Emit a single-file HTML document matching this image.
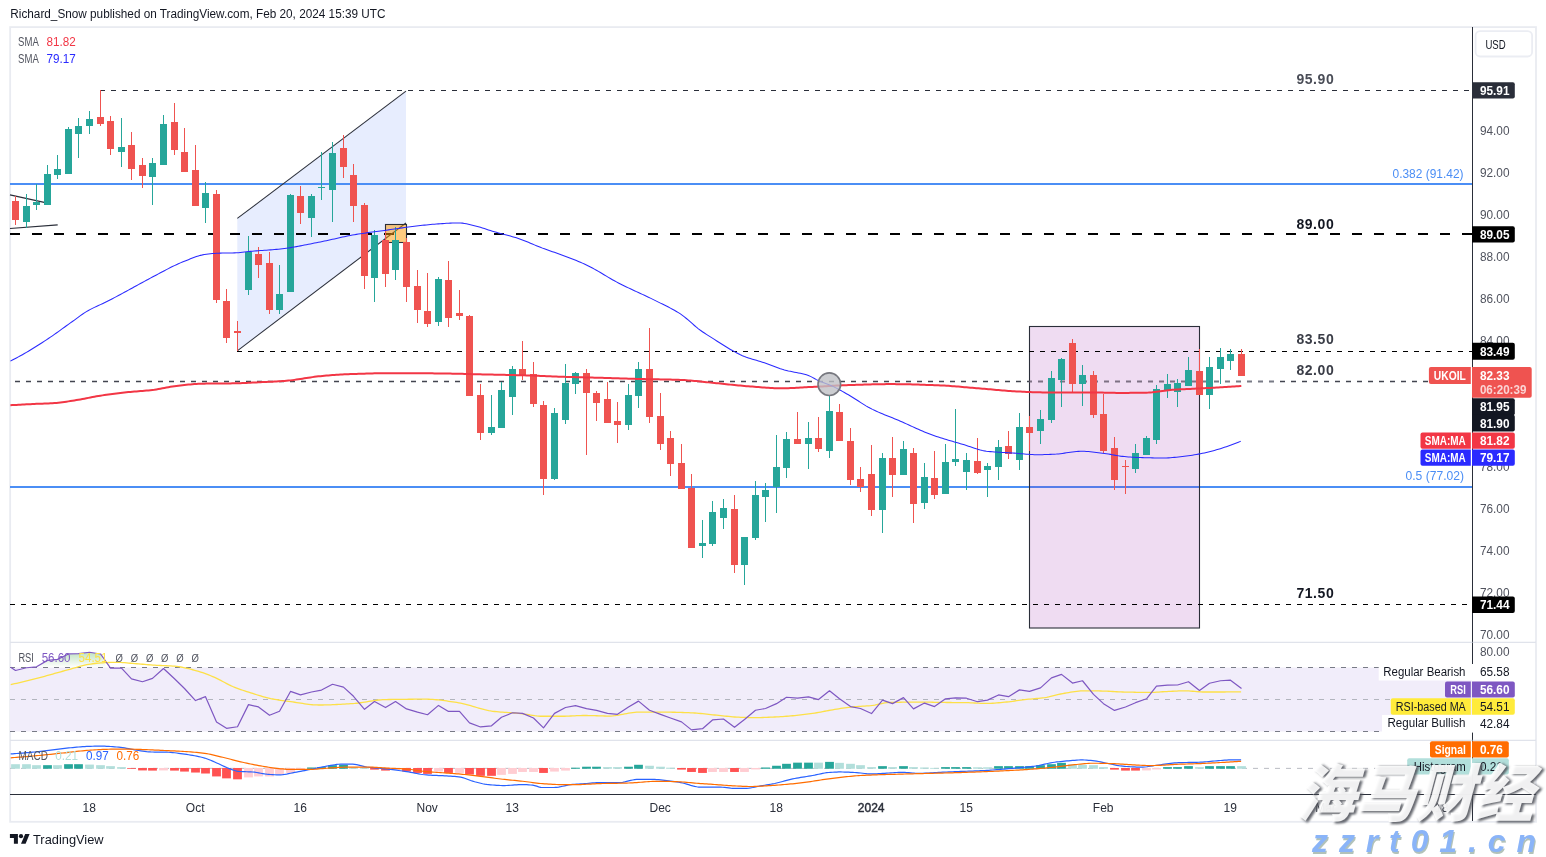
<!DOCTYPE html>
<html lang="en"><head><meta charset="utf-8"><title>UKOIL chart</title>
<style>html,body{margin:0;padding:0;background:#fff;}body{width:1546px;height:857px;position:relative;overflow:hidden;font-family:"Liberation Sans", sans-serif;}</style>
</head><body>
<svg width="1546" height="857" viewBox="0 0 1546 857" style="position:absolute;left:0;top:0;font-family:'Liberation Sans', sans-serif">
<rect x="0" y="0" width="1546" height="857" fill="#fff"/>
<text x="10.3" y="18.1" font-size="12" fill="#131722" textLength="375.2" lengthAdjust="spacingAndGlyphs">Richard_Snow published on TradingView.com, Feb 20, 2024 15:39 UTC</text>
<rect x="10.15" y="27.1" width="1525.85" height="794.6999999999999" fill="none" stroke="#e9ebf1" stroke-width="1.8"/>
<line x1="10" x2="1536" y1="642.3" y2="642.3" stroke="#e0e3eb" stroke-width="1.2"/>
<line x1="10" x2="1536" y1="740.3" y2="740.3" stroke="#e0e3eb" stroke-width="1.2"/>
<polygon points="237.3,218.4 406,91.2 406,223 237.3,350.8" fill="#e7edfe"/>
<line x1="10" x2="1472.5" y1="184" y2="184" stroke="#4b8ef5" stroke-width="2"/>
<line x1="10" x2="1472.5" y1="487" y2="487" stroke="#4b8ef5" stroke-width="2"/>
<rect x="1029.5" y="326.5" width="170" height="301.5" fill="#9c27b0" fill-opacity="0.16" stroke="none"/>
<rect x="1029.5" y="326.5" width="170" height="301.5" fill="none" stroke="#2a2e39" stroke-width="1.1"/>
<line x1="10" x2="1472.5" y1="234" y2="234" stroke="#000" stroke-width="2" stroke-dasharray="10 12" stroke-dashoffset="0"/>
<line x1="100" x2="1472.5" y1="90.5" y2="90.5" stroke="#2a2e39" stroke-width="1.2" stroke-dasharray="5 6"/>
<line x1="237" x2="1472.5" y1="351.5" y2="351.5" stroke="#000" stroke-width="1.1" stroke-dasharray="5 6"/>
<line x1="15" x2="1029.5" y1="381.5" y2="381.5" stroke="#42454f" stroke-width="1.3" stroke-dasharray="5 6"/>
<line x1="1029.5" x2="1199.6" y1="381.5" y2="381.5" stroke="#7d7083" stroke-width="1.9" stroke-dasharray="5 6" stroke-dashoffset="2.5"/>
<line x1="1199.6" x2="1275" y1="381.5" y2="381.5" stroke="#787b86" stroke-width="1.9" stroke-dasharray="5 6" stroke-dashoffset="7.6"/>
<line x1="1275" x2="1429" y1="381.5" y2="381.5" stroke="#42454f" stroke-width="1.3" stroke-dasharray="5 6" stroke-dashoffset="6"/>
<line x1="10" x2="1472.5" y1="604.5" y2="604.5" stroke="#000" stroke-width="1.1" stroke-dasharray="5 6"/>
<line x1="10" y1="194.9" x2="44.2" y2="202.3" stroke="#2a2e39" stroke-width="1.2"/>
<line x1="10" y1="228.5" x2="57.7" y2="224.8" stroke="#2a2e39" stroke-width="1.2"/>
<line x1="237.3" y1="218.4" x2="406" y2="91.2" stroke="#2a2e39" stroke-width="1.05"/>
<line x1="237.3" y1="350.8" x2="406" y2="223" stroke="#2a2e39" stroke-width="1.05"/>
<rect x="385.5" y="224.5" width="21" height="18" fill="#ff9800" fill-opacity="0.5" stroke="#2a2e39" stroke-width="1.1"/>
<g><rect x="15" y="196" width="1" height="29" fill="#ef5350"/><rect x="26" y="194" width="1" height="34" fill="#26a69a"/><rect x="36" y="184" width="1" height="26" fill="#26a69a"/><rect x="47" y="165" width="1" height="40" fill="#26a69a"/><rect x="57" y="155" width="1" height="24" fill="#26a69a"/><rect x="68" y="127" width="1" height="47" fill="#26a69a"/><rect x="78" y="118" width="1" height="40" fill="#26a69a"/><rect x="89" y="111" width="1" height="23" fill="#26a69a"/><rect x="100" y="90" width="1" height="36" fill="#ef5350"/><rect x="110" y="116" width="1" height="39" fill="#ef5350"/><rect x="121" y="118" width="1" height="49" fill="#26a69a"/><rect x="131" y="132" width="1" height="48" fill="#ef5350"/><rect x="142" y="158" width="1" height="30" fill="#ef5350"/><rect x="152" y="158" width="1" height="47" fill="#26a69a"/><rect x="163" y="115" width="1" height="50" fill="#26a69a"/><rect x="174" y="103" width="1" height="52" fill="#ef5350"/><rect x="184" y="128" width="1" height="44" fill="#ef5350"/><rect x="195" y="145" width="1" height="61" fill="#ef5350"/><rect x="205" y="182" width="1" height="41" fill="#26a69a"/><rect x="216" y="190" width="1" height="113" fill="#ef5350"/><rect x="226" y="289" width="1" height="54" fill="#ef5350"/><rect x="237" y="321" width="1" height="30" fill="#ef5350"/><rect x="248" y="236" width="1" height="59" fill="#26a69a"/><rect x="258" y="247" width="1" height="31" fill="#ef5350"/><rect x="269" y="252" width="1" height="62" fill="#ef5350"/><rect x="279" y="265" width="1" height="49" fill="#26a69a"/><rect x="290" y="194" width="1" height="98" fill="#26a69a"/><rect x="300" y="186" width="1" height="38" fill="#ef5350"/><rect x="311" y="194" width="1" height="43" fill="#26a69a"/><rect x="321" y="152" width="1" height="48" fill="#26a69a"/><rect x="332" y="142" width="1" height="80" fill="#26a69a"/><rect x="343" y="135" width="1" height="43" fill="#ef5350"/><rect x="353" y="164" width="1" height="58" fill="#ef5350"/><rect x="364" y="203" width="1" height="86" fill="#ef5350"/><rect x="374" y="230" width="1" height="72" fill="#26a69a"/><rect x="385" y="231" width="1" height="56" fill="#ef5350"/><rect x="395" y="227" width="1" height="53" fill="#26a69a"/><rect x="406" y="238" width="1" height="64" fill="#ef5350"/><rect x="417" y="270" width="1" height="53" fill="#ef5350"/><rect x="427" y="273" width="1" height="54" fill="#ef5350"/><rect x="438" y="277" width="1" height="49" fill="#26a69a"/><rect x="448" y="261" width="1" height="66" fill="#ef5350"/><rect x="459" y="290" width="1" height="30" fill="#ef5350"/><rect x="469" y="315" width="1" height="81" fill="#ef5350"/><rect x="480" y="384" width="1" height="56" fill="#ef5350"/><rect x="491" y="395" width="1" height="40" fill="#26a69a"/><rect x="501" y="382" width="1" height="46" fill="#26a69a"/><rect x="512" y="366" width="1" height="49" fill="#26a69a"/><rect x="522" y="341" width="1" height="39" fill="#ef5350"/><rect x="533" y="362" width="1" height="45" fill="#ef5350"/><rect x="543" y="401" width="1" height="94" fill="#ef5350"/><rect x="554" y="408" width="1" height="72" fill="#26a69a"/><rect x="565" y="364" width="1" height="60" fill="#26a69a"/><rect x="575" y="372" width="1" height="22" fill="#26a69a"/><rect x="586" y="369" width="1" height="86" fill="#ef5350"/><rect x="596" y="391" width="1" height="30" fill="#ef5350"/><rect x="607" y="382" width="1" height="41" fill="#ef5350"/><rect x="617" y="402" width="1" height="41" fill="#ef5350"/><rect x="628" y="384" width="1" height="46" fill="#26a69a"/><rect x="638" y="362" width="1" height="46" fill="#26a69a"/><rect x="649" y="328" width="1" height="95" fill="#ef5350"/><rect x="660" y="393" width="1" height="57" fill="#ef5350"/><rect x="670" y="431" width="1" height="45" fill="#ef5350"/><rect x="681" y="444" width="1" height="45" fill="#ef5350"/><rect x="691" y="474" width="1" height="74" fill="#ef5350"/><rect x="702" y="520" width="1" height="38" fill="#26a69a"/><rect x="712" y="501" width="1" height="45" fill="#26a69a"/><rect x="723" y="499" width="1" height="30" fill="#26a69a"/><rect x="734" y="495" width="1" height="78" fill="#ef5350"/><rect x="744" y="537" width="1" height="48" fill="#26a69a"/><rect x="755" y="481" width="1" height="59" fill="#26a69a"/><rect x="765" y="483" width="1" height="39" fill="#26a69a"/><rect x="776" y="435" width="1" height="78" fill="#26a69a"/><rect x="786" y="432" width="1" height="46" fill="#26a69a"/><rect x="797" y="412" width="1" height="32" fill="#ef5350"/><rect x="808" y="422" width="1" height="47" fill="#26a69a"/><rect x="818" y="417" width="1" height="35" fill="#ef5350"/><rect x="829" y="396" width="1" height="62" fill="#26a69a"/><rect x="839" y="404" width="1" height="37" fill="#ef5350"/><rect x="850" y="428" width="1" height="57" fill="#ef5350"/><rect x="860" y="467" width="1" height="25" fill="#ef5350"/><rect x="871" y="445" width="1" height="71" fill="#ef5350"/><rect x="882" y="453" width="1" height="80" fill="#26a69a"/><rect x="892" y="437" width="1" height="60" fill="#ef5350"/><rect x="903" y="441" width="1" height="34" fill="#26a69a"/><rect x="913" y="448" width="1" height="75" fill="#ef5350"/><rect x="924" y="463" width="1" height="46" fill="#26a69a"/><rect x="934" y="451" width="1" height="48" fill="#ef5350"/><rect x="945" y="444" width="1" height="50" fill="#26a69a"/><rect x="955" y="409" width="1" height="57" fill="#26a69a"/><rect x="966" y="453" width="1" height="37" fill="#26a69a"/><rect x="977" y="438" width="1" height="36" fill="#ef5350"/><rect x="987" y="463" width="1" height="34" fill="#26a69a"/><rect x="998" y="440" width="1" height="40" fill="#26a69a"/><rect x="1008" y="431" width="1" height="28" fill="#ef5350"/><rect x="1019" y="413" width="1" height="57" fill="#26a69a"/><rect x="1029" y="416" width="1" height="35" fill="#ef5350"/><rect x="1040" y="410" width="1" height="34" fill="#26a69a"/><rect x="1051" y="371" width="1" height="52" fill="#26a69a"/><rect x="1061" y="358" width="1" height="49" fill="#26a69a"/><rect x="1072" y="339" width="1" height="53" fill="#ef5350"/><rect x="1082" y="365" width="1" height="41" fill="#26a69a"/><rect x="1093" y="371" width="1" height="47" fill="#ef5350"/><rect x="1103" y="394" width="1" height="59" fill="#ef5350"/><rect x="1114" y="437" width="1" height="53" fill="#ef5350"/><rect x="1125" y="460" width="1" height="34" fill="#ef5350"/><rect x="1135" y="444" width="1" height="29" fill="#26a69a"/><rect x="1146" y="436" width="1" height="19" fill="#26a69a"/><rect x="1156" y="385" width="1" height="59" fill="#26a69a"/><rect x="1167" y="374" width="1" height="24" fill="#26a69a"/><rect x="1177" y="379" width="1" height="28" fill="#26a69a"/><rect x="1188" y="357" width="1" height="29" fill="#26a69a"/><rect x="1199" y="349" width="1" height="46" fill="#ef5350"/><rect x="1209" y="357" width="1" height="52" fill="#26a69a"/><rect x="1220" y="348" width="1" height="36" fill="#26a69a"/><rect x="1230" y="349" width="1" height="21" fill="#26a69a"/><rect x="1241" y="349" width="1" height="27" fill="#ef5350"/></g>
<g><rect x="12" y="201" width="7" height="19" fill="#ef5350"/><rect x="23" y="206" width="7" height="16" fill="#26a69a"/><rect x="33" y="202" width="7" height="3" fill="#26a69a"/><rect x="44" y="174" width="7" height="31" fill="#26a69a"/><rect x="54" y="169" width="7" height="6" fill="#26a69a"/><rect x="65" y="129" width="7" height="45" fill="#26a69a"/><rect x="75" y="126" width="7" height="8" fill="#26a69a"/><rect x="86" y="119" width="7" height="7" fill="#26a69a"/><rect x="97" y="117" width="7" height="7" fill="#ef5350"/><rect x="107" y="121" width="7" height="28" fill="#ef5350"/><rect x="118" y="147" width="7" height="5" fill="#26a69a"/><rect x="128" y="145" width="7" height="24" fill="#ef5350"/><rect x="139" y="165" width="7" height="11" fill="#ef5350"/><rect x="149" y="163" width="7" height="14" fill="#26a69a"/><rect x="160" y="124" width="7" height="41" fill="#26a69a"/><rect x="171" y="122" width="7" height="28" fill="#ef5350"/><rect x="181" y="152" width="7" height="20" fill="#ef5350"/><rect x="192" y="170" width="7" height="36" fill="#ef5350"/><rect x="202" y="193" width="7" height="15" fill="#26a69a"/><rect x="213" y="194" width="7" height="106" fill="#ef5350"/><rect x="223" y="301" width="7" height="37" fill="#ef5350"/><rect x="234" y="331" width="7" height="2" fill="#ef5350"/><rect x="245" y="252" width="7" height="38" fill="#26a69a"/><rect x="255" y="254" width="7" height="11" fill="#ef5350"/><rect x="266" y="263" width="7" height="47" fill="#ef5350"/><rect x="276" y="294" width="7" height="16" fill="#26a69a"/><rect x="287" y="195" width="7" height="97" fill="#26a69a"/><rect x="297" y="196" width="7" height="17" fill="#ef5350"/><rect x="308" y="196" width="7" height="22" fill="#26a69a"/><rect x="318" y="187" width="7" height="1" fill="#26a69a"/><rect x="329" y="153" width="7" height="37" fill="#26a69a"/><rect x="340" y="148" width="7" height="19" fill="#ef5350"/><rect x="350" y="175" width="7" height="31" fill="#ef5350"/><rect x="361" y="205" width="7" height="71" fill="#ef5350"/><rect x="371" y="235" width="7" height="43" fill="#26a69a"/><rect x="382" y="240" width="7" height="34" fill="#ef5350"/><rect x="392" y="240" width="7" height="30" fill="#26a69a"/><rect x="403" y="242" width="7" height="45" fill="#ef5350"/><rect x="414" y="286" width="7" height="24" fill="#ef5350"/><rect x="424" y="311" width="7" height="13" fill="#ef5350"/><rect x="435" y="279" width="7" height="43" fill="#26a69a"/><rect x="445" y="280" width="7" height="38" fill="#ef5350"/><rect x="456" y="313" width="7" height="3" fill="#ef5350"/><rect x="466" y="316" width="7" height="80" fill="#ef5350"/><rect x="477" y="395" width="7" height="38" fill="#ef5350"/><rect x="488" y="427" width="7" height="6" fill="#26a69a"/><rect x="498" y="390" width="7" height="38" fill="#26a69a"/><rect x="509" y="369" width="7" height="28" fill="#26a69a"/><rect x="519" y="369" width="7" height="6" fill="#ef5350"/><rect x="530" y="374" width="7" height="30" fill="#ef5350"/><rect x="540" y="405" width="7" height="74" fill="#ef5350"/><rect x="551" y="413" width="7" height="66" fill="#26a69a"/><rect x="562" y="383" width="7" height="37" fill="#26a69a"/><rect x="572" y="373" width="7" height="11" fill="#26a69a"/><rect x="583" y="373" width="7" height="20" fill="#ef5350"/><rect x="593" y="393" width="7" height="10" fill="#ef5350"/><rect x="604" y="399" width="7" height="24" fill="#ef5350"/><rect x="614" y="421" width="7" height="4" fill="#ef5350"/><rect x="625" y="395" width="7" height="30" fill="#26a69a"/><rect x="635" y="369" width="7" height="27" fill="#26a69a"/><rect x="646" y="369" width="7" height="48" fill="#ef5350"/><rect x="657" y="416" width="7" height="28" fill="#ef5350"/><rect x="667" y="438" width="7" height="26" fill="#ef5350"/><rect x="678" y="463" width="7" height="26" fill="#ef5350"/><rect x="688" y="488" width="7" height="60" fill="#ef5350"/><rect x="699" y="543" width="7" height="3" fill="#26a69a"/><rect x="709" y="512" width="7" height="32" fill="#26a69a"/><rect x="720" y="508" width="7" height="10" fill="#26a69a"/><rect x="731" y="509" width="7" height="56" fill="#ef5350"/><rect x="741" y="537" width="7" height="28" fill="#26a69a"/><rect x="752" y="495" width="7" height="43" fill="#26a69a"/><rect x="762" y="490" width="7" height="7" fill="#26a69a"/><rect x="773" y="467" width="7" height="20" fill="#26a69a"/><rect x="783" y="439" width="7" height="29" fill="#26a69a"/><rect x="794" y="439" width="7" height="5" fill="#ef5350"/><rect x="805" y="438" width="7" height="6" fill="#26a69a"/><rect x="815" y="438" width="7" height="11" fill="#ef5350"/><rect x="826" y="411" width="7" height="40" fill="#26a69a"/><rect x="836" y="412" width="7" height="29" fill="#ef5350"/><rect x="847" y="441" width="7" height="39" fill="#ef5350"/><rect x="857" y="479" width="7" height="8" fill="#ef5350"/><rect x="868" y="474" width="7" height="36" fill="#ef5350"/><rect x="879" y="458" width="7" height="52" fill="#26a69a"/><rect x="889" y="458" width="7" height="17" fill="#ef5350"/><rect x="900" y="449" width="7" height="26" fill="#26a69a"/><rect x="910" y="453" width="7" height="51" fill="#ef5350"/><rect x="921" y="477" width="7" height="26" fill="#26a69a"/><rect x="931" y="478" width="7" height="17" fill="#ef5350"/><rect x="942" y="462" width="7" height="32" fill="#26a69a"/><rect x="952" y="459" width="7" height="3" fill="#26a69a"/><rect x="963" y="460" width="7" height="12" fill="#26a69a"/><rect x="974" y="461" width="7" height="12" fill="#ef5350"/><rect x="984" y="466" width="7" height="4" fill="#26a69a"/><rect x="995" y="447" width="7" height="20" fill="#26a69a"/><rect x="1005" y="446" width="7" height="8" fill="#ef5350"/><rect x="1016" y="427" width="7" height="33" fill="#26a69a"/><rect x="1026" y="427" width="7" height="6" fill="#ef5350"/><rect x="1037" y="419" width="7" height="12" fill="#26a69a"/><rect x="1048" y="378" width="7" height="42" fill="#26a69a"/><rect x="1058" y="359" width="7" height="21" fill="#26a69a"/><rect x="1069" y="343" width="7" height="41" fill="#ef5350"/><rect x="1079" y="375" width="7" height="9" fill="#26a69a"/><rect x="1090" y="375" width="7" height="40" fill="#ef5350"/><rect x="1100" y="414" width="7" height="37" fill="#ef5350"/><rect x="1111" y="448" width="7" height="32" fill="#ef5350"/><rect x="1122" y="466" width="7" height="1" fill="#ef5350"/><rect x="1132" y="453" width="7" height="16" fill="#26a69a"/><rect x="1143" y="438" width="7" height="17" fill="#26a69a"/><rect x="1153" y="389" width="7" height="51" fill="#26a69a"/><rect x="1164" y="384" width="7" height="6" fill="#26a69a"/><rect x="1174" y="383" width="7" height="9" fill="#26a69a"/><rect x="1185" y="370" width="7" height="16" fill="#26a69a"/><rect x="1196" y="371" width="7" height="24" fill="#ef5350"/><rect x="1206" y="367" width="7" height="28" fill="#26a69a"/><rect x="1217" y="357" width="7" height="12" fill="#26a69a"/><rect x="1227" y="354" width="7" height="7" fill="#26a69a"/><rect x="1238" y="354" width="7" height="22" fill="#ef5350"/></g>
<path d="M10.4,405.2 L12.4,405.09 L14.4,404.98 L16.4,404.88 L18.4,404.77 L20.4,404.66 L22.4,404.56 L24.4,404.46 L26.4,404.36 L28.4,404.26 L30.4,404.16 L32.4,404.06 L34.4,403.96 L36.4,403.87 L38.4,403.79 L40.4,403.71 L42.4,403.64 L44.4,403.56 L46.4,403.48 L48.4,403.4 L50.4,403.3 L52.4,403.19 L54.4,403.07 L56.4,402.93 L58.4,402.75 L60.4,402.53 L62.4,402.28 L64.4,402 L66.4,401.7 L68.4,401.38 L70.4,401.06 L72.4,400.73 L74.4,400.41 L76.4,400.09 L78.4,399.75 L80.4,399.4 L82.4,399.03 L84.4,398.65 L86.4,398.26 L88.4,397.87 L90.4,397.48 L92.4,397.09 L94.4,396.71 L96.4,396.35 L98.4,396 L100.4,395.68 L102.4,395.37 L104.4,395.07 L106.4,394.78 L108.4,394.5 L110.4,394.22 L112.4,393.95 L114.4,393.68 L116.4,393.42 L118.4,393.17 L120.4,392.93 L122.4,392.7 L124.4,392.48 L126.4,392.27 L128.4,392.07 L130.4,391.89 L132.4,391.72 L134.4,391.56 L136.4,391.41 L138.4,391.26 L140.4,391.11 L142.4,390.95 L144.4,390.78 L146.4,390.61 L148.4,390.42 L150.4,390.21 L152.4,389.98 L154.4,389.71 L156.4,389.39 L158.4,389.05 L160.4,388.69 L162.4,388.31 L164.4,387.92 L166.4,387.54 L168.4,387.17 L170.4,386.81 L172.4,386.48 L174.4,386.18 L176.4,385.92 L178.4,385.69 L180.4,385.46 L182.4,385.23 L184.4,385.01 L186.4,384.79 L188.4,384.59 L190.4,384.39 L192.4,384.22 L194.4,384.06 L196.4,383.93 L198.4,383.82 L200.4,383.74 L202.4,383.69 L204.4,383.65 L206.4,383.62 L208.4,383.59 L210.4,383.56 L212.4,383.54 L214.4,383.52 L216.4,383.51 L218.4,383.49 L220.4,383.48 L222.4,383.46 L224.4,383.45 L226.4,383.43 L228.4,383.41 L230.4,383.38 L232.4,383.35 L234.4,383.32 L236.4,383.28 L238.4,383.23 L240.4,383.16 L242.4,383.09 L244.4,383 L246.4,382.91 L248.4,382.81 L250.4,382.7 L252.4,382.59 L254.4,382.49 L256.4,382.38 L258.4,382.28 L260.4,382.18 L262.4,382.09 L264.4,382 L266.4,381.91 L268.4,381.82 L270.4,381.73 L272.4,381.63 L274.4,381.54 L276.4,381.43 L278.4,381.32 L280.4,381.21 L282.4,381.08 L284.4,380.94 L286.4,380.79 L288.4,380.6 L290.4,380.38 L292.4,380.14 L294.4,379.87 L296.4,379.59 L298.4,379.29 L300.4,378.98 L302.4,378.67 L304.4,378.35 L306.4,378.03 L308.4,377.72 L310.4,377.41 L312.4,377.12 L314.4,376.85 L316.4,376.59 L318.4,376.36 L320.4,376.16 L322.4,375.97 L324.4,375.78 L326.4,375.6 L328.4,375.42 L330.4,375.25 L332.4,375.08 L334.4,374.93 L336.4,374.79 L338.4,374.66 L340.4,374.54 L342.4,374.44 L344.4,374.36 L346.4,374.28 L348.4,374.2 L350.4,374.12 L352.4,374.04 L354.4,373.97 L356.4,373.9 L358.4,373.83 L360.4,373.76 L362.4,373.69 L364.4,373.63 L366.4,373.57 L368.4,373.52 L370.4,373.46 L372.4,373.42 L374.4,373.37 L376.4,373.33 L378.4,373.3 L380.4,373.27 L382.4,373.24 L384.4,373.22 L386.4,373.21 L388.4,373.2 L390.4,373.2 L392.4,373.2 L394.4,373.2 L396.4,373.2 L398.4,373.21 L400.4,373.21 L402.4,373.22 L404.4,373.22 L406.4,373.23 L408.4,373.24 L410.4,373.25 L412.4,373.25 L414.4,373.26 L416.4,373.27 L418.4,373.28 L420.4,373.29 L422.4,373.31 L424.4,373.32 L426.4,373.33 L428.4,373.34 L430.4,373.36 L432.4,373.37 L434.4,373.38 L436.4,373.4 L438.4,373.41 L440.4,373.43 L442.4,373.46 L444.4,373.49 L446.4,373.52 L448.4,373.55 L450.4,373.59 L452.4,373.63 L454.4,373.68 L456.4,373.72 L458.4,373.77 L460.4,373.82 L462.4,373.87 L464.4,373.92 L466.4,373.97 L468.4,374.02 L470.4,374.08 L472.4,374.13 L474.4,374.18 L476.4,374.23 L478.4,374.28 L480.4,374.33 L482.4,374.38 L484.4,374.42 L486.4,374.47 L488.4,374.51 L490.4,374.55 L492.4,374.6 L494.4,374.64 L496.4,374.68 L498.4,374.72 L500.4,374.77 L502.4,374.81 L504.4,374.85 L506.4,374.9 L508.4,374.94 L510.4,374.99 L512.4,375.03 L514.4,375.08 L516.4,375.13 L518.4,375.18 L520.4,375.23 L522.4,375.28 L524.4,375.34 L526.4,375.39 L528.4,375.45 L530.4,375.51 L532.4,375.58 L534.4,375.65 L536.4,375.73 L538.4,375.81 L540.4,375.89 L542.4,375.98 L544.4,376.06 L546.4,376.15 L548.4,376.24 L550.4,376.33 L552.4,376.41 L554.4,376.49 L556.4,376.57 L558.4,376.65 L560.4,376.71 L562.4,376.78 L564.4,376.84 L566.4,376.9 L568.4,376.96 L570.4,377.01 L572.4,377.07 L574.4,377.12 L576.4,377.18 L578.4,377.23 L580.4,377.28 L582.4,377.33 L584.4,377.38 L586.4,377.44 L588.4,377.49 L590.4,377.54 L592.4,377.59 L594.4,377.64 L596.4,377.7 L598.4,377.75 L600.4,377.81 L602.4,377.87 L604.4,377.93 L606.4,377.99 L608.4,378.05 L610.4,378.11 L612.4,378.18 L614.4,378.24 L616.4,378.3 L618.4,378.36 L620.4,378.43 L622.4,378.49 L624.4,378.55 L626.4,378.61 L628.4,378.67 L630.4,378.73 L632.4,378.79 L634.4,378.85 L636.4,378.9 L638.4,378.96 L640.4,379.01 L642.4,379.06 L644.4,379.1 L646.4,379.15 L648.4,379.19 L650.4,379.22 L652.4,379.26 L654.4,379.3 L656.4,379.33 L658.4,379.37 L660.4,379.4 L662.4,379.44 L664.4,379.48 L666.4,379.52 L668.4,379.56 L670.4,379.61 L672.4,379.66 L674.4,379.72 L676.4,379.78 L678.4,379.84 L680.4,379.92 L682.4,380 L684.4,380.12 L686.4,380.25 L688.4,380.39 L690.4,380.56 L692.4,380.74 L694.4,380.92 L696.4,381.12 L698.4,381.33 L700.4,381.54 L702.4,381.75 L704.4,381.96 L706.4,382.17 L708.4,382.38 L710.4,382.59 L712.4,382.79 L714.4,382.98 L716.4,383.17 L718.4,383.37 L720.4,383.57 L722.4,383.78 L724.4,383.99 L726.4,384.2 L728.4,384.41 L730.4,384.62 L732.4,384.82 L734.4,385.03 L736.4,385.23 L738.4,385.42 L740.4,385.61 L742.4,385.79 L744.4,385.97 L746.4,386.13 L748.4,386.29 L750.4,386.45 L752.4,386.61 L754.4,386.78 L756.4,386.95 L758.4,387.12 L760.4,387.28 L762.4,387.44 L764.4,387.59 L766.4,387.74 L768.4,387.87 L770.4,387.99 L772.4,388.09 L774.4,388.17 L776.4,388.24 L778.4,388.28 L780.4,388.3 L782.4,388.29 L784.4,388.27 L786.4,388.23 L788.4,388.17 L790.4,388.1 L792.4,388.02 L794.4,387.92 L796.4,387.82 L798.4,387.71 L800.4,387.6 L802.4,387.48 L804.4,387.36 L806.4,387.24 L808.4,387.12 L810.4,387.01 L812.4,386.9 L814.4,386.8 L816.4,386.71 L818.4,386.61 L820.4,386.5 L822.4,386.39 L824.4,386.28 L826.4,386.17 L828.4,386.05 L830.4,385.94 L832.4,385.83 L834.4,385.72 L836.4,385.62 L838.4,385.51 L840.4,385.42 L842.4,385.32 L844.4,385.24 L846.4,385.16 L848.4,385.09 L850.4,385.03 L852.4,384.96 L854.4,384.89 L856.4,384.83 L858.4,384.76 L860.4,384.69 L862.4,384.63 L864.4,384.57 L866.4,384.51 L868.4,384.45 L870.4,384.4 L872.4,384.34 L874.4,384.3 L876.4,384.25 L878.4,384.21 L880.4,384.18 L882.4,384.15 L884.4,384.13 L886.4,384.11 L888.4,384.1 L890.4,384.1 L892.4,384.1 L894.4,384.11 L896.4,384.13 L898.4,384.15 L900.4,384.18 L902.4,384.21 L904.4,384.24 L906.4,384.28 L908.4,384.33 L910.4,384.37 L912.4,384.43 L914.4,384.48 L916.4,384.54 L918.4,384.6 L920.4,384.67 L922.4,384.74 L924.4,384.8 L926.4,384.88 L928.4,384.95 L930.4,385.02 L932.4,385.1 L934.4,385.18 L936.4,385.26 L938.4,385.34 L940.4,385.42 L942.4,385.51 L944.4,385.61 L946.4,385.73 L948.4,385.85 L950.4,385.99 L952.4,386.14 L954.4,386.29 L956.4,386.46 L958.4,386.62 L960.4,386.8 L962.4,386.97 L964.4,387.15 L966.4,387.33 L968.4,387.51 L970.4,387.69 L972.4,387.87 L974.4,388.04 L976.4,388.21 L978.4,388.37 L980.4,388.53 L982.4,388.69 L984.4,388.86 L986.4,389.03 L988.4,389.2 L990.4,389.37 L992.4,389.55 L994.4,389.73 L996.4,389.91 L998.4,390.08 L1000.4,390.25 L1002.4,390.42 L1004.4,390.59 L1006.4,390.75 L1008.4,390.9 L1010.4,391.04 L1012.4,391.18 L1014.4,391.31 L1016.4,391.42 L1018.4,391.53 L1020.4,391.62 L1022.4,391.71 L1024.4,391.8 L1026.4,391.88 L1028.4,391.97 L1030.4,392.05 L1032.4,392.13 L1034.4,392.2 L1036.4,392.26 L1038.4,392.32 L1040.4,392.36 L1042.4,392.38 L1044.4,392.4 L1046.4,392.4 L1048.4,392.4 L1050.4,392.4 L1052.4,392.4 L1054.4,392.4 L1056.4,392.4 L1058.4,392.4 L1060.4,392.4 L1062.4,392.4 L1064.4,392.4 L1066.4,392.4 L1068.4,392.4 L1070.4,392.4 L1072.4,392.4 L1074.4,392.4 L1076.4,392.4 L1078.4,392.4 L1080.4,392.4 L1082.4,392.4 L1084.4,392.4 L1086.4,392.4 L1088.4,392.4 L1090.4,392.41 L1092.4,392.43 L1094.4,392.46 L1096.4,392.49 L1098.4,392.53 L1100.4,392.57 L1102.4,392.61 L1104.4,392.66 L1106.4,392.7 L1108.4,392.74 L1110.4,392.78 L1112.4,392.82 L1114.4,392.85 L1116.4,392.88 L1118.4,392.89 L1120.4,392.9 L1122.4,392.9 L1124.4,392.9 L1126.4,392.89 L1128.4,392.88 L1130.4,392.87 L1132.4,392.86 L1134.4,392.84 L1136.4,392.82 L1138.4,392.8 L1140.4,392.78 L1142.4,392.75 L1144.4,392.72 L1146.4,392.69 L1148.4,392.62 L1150.4,392.48 L1152.4,392.3 L1154.4,392.07 L1156.4,391.81 L1158.4,391.53 L1160.4,391.24 L1162.4,390.94 L1164.4,390.66 L1166.4,390.4 L1168.4,390.17 L1170.4,389.98 L1172.4,389.83 L1174.4,389.7 L1176.4,389.58 L1178.4,389.46 L1180.4,389.36 L1182.4,389.25 L1184.4,389.16 L1186.4,389.07 L1188.4,388.98 L1190.4,388.89 L1192.4,388.8 L1194.4,388.71 L1196.4,388.62 L1198.4,388.53 L1200.4,388.44 L1202.4,388.34 L1204.4,388.23 L1206.4,388.12 L1208.4,388.01 L1210.4,387.9 L1212.4,387.78 L1214.4,387.67 L1216.4,387.55 L1218.4,387.43 L1220.4,387.31 L1222.4,387.19 L1224.4,387.07 L1226.4,386.95 L1228.4,386.83 L1230.4,386.7 L1232.4,386.57 L1234.4,386.45 L1236.4,386.32 L1238.4,386.19 L1240.4,386.06 L1241.3,386" fill="none" stroke="#f23645" stroke-width="2" stroke-linejoin="round"/>
<path d="M10.4,361.1 L12.4,360.08 L14.4,359.04 L16.4,357.98 L18.4,356.91 L20.4,355.81 L22.4,354.7 L24.4,353.56 L26.4,352.4 L28.4,351.22 L30.4,350.02 L32.4,348.8 L34.4,347.56 L36.4,346.31 L38.4,345.04 L40.4,343.76 L42.4,342.46 L44.4,341.15 L46.4,339.83 L48.4,338.5 L50.4,337.17 L52.4,335.81 L54.4,334.42 L56.4,333.01 L58.4,331.58 L60.4,330.14 L62.4,328.69 L64.4,327.24 L66.4,325.8 L68.4,324.36 L70.4,322.94 L72.4,321.51 L74.4,320.05 L76.4,318.58 L78.4,317.1 L80.4,315.66 L82.4,314.25 L84.4,312.91 L86.4,311.65 L88.4,310.49 L90.4,309.4 L92.4,308.38 L94.4,307.4 L96.4,306.46 L98.4,305.54 L100.4,304.63 L102.4,303.71 L104.4,302.77 L106.4,301.8 L108.4,300.79 L110.4,299.76 L112.4,298.71 L114.4,297.65 L116.4,296.59 L118.4,295.51 L120.4,294.43 L122.4,293.35 L124.4,292.26 L126.4,291.18 L128.4,290.09 L130.4,289.01 L132.4,287.93 L134.4,286.83 L136.4,285.73 L138.4,284.63 L140.4,283.53 L142.4,282.43 L144.4,281.34 L146.4,280.26 L148.4,279.18 L150.4,278.12 L152.4,277.08 L154.4,276.02 L156.4,274.96 L158.4,273.89 L160.4,272.82 L162.4,271.75 L164.4,270.69 L166.4,269.64 L168.4,268.6 L170.4,267.58 L172.4,266.59 L174.4,265.61 L176.4,264.67 L178.4,263.76 L180.4,262.89 L182.4,262.06 L184.4,261.26 L186.4,260.45 L188.4,259.64 L190.4,258.83 L192.4,258.04 L194.4,257.28 L196.4,256.58 L198.4,255.94 L200.4,255.37 L202.4,254.89 L204.4,254.52 L206.4,254.24 L208.4,254 L210.4,253.78 L212.4,253.59 L214.4,253.43 L216.4,253.3 L218.4,253.21 L220.4,253.14 L222.4,253.09 L224.4,253.05 L226.4,253.02 L228.4,252.99 L230.4,252.96 L232.4,252.93 L234.4,252.88 L236.4,252.82 L238.4,252.73 L240.4,252.55 L242.4,252.33 L244.4,252.07 L246.4,251.81 L248.4,251.57 L250.4,251.36 L252.4,251.19 L254.4,251.02 L256.4,250.87 L258.4,250.72 L260.4,250.58 L262.4,250.44 L264.4,250.31 L266.4,250.17 L268.4,250.03 L270.4,249.88 L272.4,249.73 L274.4,249.56 L276.4,249.39 L278.4,249.2 L280.4,248.99 L282.4,248.76 L284.4,248.51 L286.4,248.24 L288.4,247.95 L290.4,247.64 L292.4,247.31 L294.4,246.97 L296.4,246.62 L298.4,246.25 L300.4,245.88 L302.4,245.49 L304.4,245.1 L306.4,244.7 L308.4,244.31 L310.4,243.9 L312.4,243.5 L314.4,243.1 L316.4,242.7 L318.4,242.31 L320.4,241.92 L322.4,241.53 L324.4,241.11 L326.4,240.69 L328.4,240.25 L330.4,239.8 L332.4,239.35 L334.4,238.9 L336.4,238.45 L338.4,237.99 L340.4,237.54 L342.4,237.1 L344.4,236.66 L346.4,236.24 L348.4,235.83 L350.4,235.43 L352.4,235.06 L354.4,234.7 L356.4,234.37 L358.4,234.05 L360.4,233.74 L362.4,233.44 L364.4,233.15 L366.4,232.87 L368.4,232.59 L370.4,232.32 L372.4,232.05 L374.4,231.79 L376.4,231.52 L378.4,231.26 L380.4,230.99 L382.4,230.72 L384.4,230.44 L386.4,230.16 L388.4,229.87 L390.4,229.58 L392.4,229.29 L394.4,229 L396.4,228.71 L398.4,228.42 L400.4,228.14 L402.4,227.86 L404.4,227.58 L406.4,227.31 L408.4,227.05 L410.4,226.78 L412.4,226.52 L414.4,226.26 L416.4,226.02 L418.4,225.78 L420.4,225.56 L422.4,225.34 L424.4,225.12 L426.4,224.91 L428.4,224.71 L430.4,224.51 L432.4,224.33 L434.4,224.17 L436.4,224.02 L438.4,223.89 L440.4,223.75 L442.4,223.61 L444.4,223.48 L446.4,223.35 L448.4,223.23 L450.4,223.13 L452.4,223.04 L454.4,222.97 L456.4,222.92 L458.4,222.9 L460.4,222.95 L462.4,223.14 L464.4,223.45 L466.4,223.85 L468.4,224.31 L470.4,224.81 L472.4,225.3 L474.4,225.77 L476.4,226.26 L478.4,226.79 L480.4,227.37 L482.4,227.98 L484.4,228.62 L486.4,229.26 L488.4,229.91 L490.4,230.56 L492.4,231.19 L494.4,231.8 L496.4,232.37 L498.4,232.93 L500.4,233.46 L502.4,233.99 L504.4,234.52 L506.4,235.04 L508.4,235.57 L510.4,236.11 L512.4,236.67 L514.4,237.25 L516.4,237.86 L518.4,238.5 L520.4,239.19 L522.4,239.92 L524.4,240.7 L526.4,241.51 L528.4,242.34 L530.4,243.19 L532.4,244.04 L534.4,244.89 L536.4,245.74 L538.4,246.56 L540.4,247.36 L542.4,248.13 L544.4,248.86 L546.4,249.58 L548.4,250.29 L550.4,250.99 L552.4,251.68 L554.4,252.37 L556.4,253.07 L558.4,253.77 L560.4,254.48 L562.4,255.21 L564.4,255.96 L566.4,256.72 L568.4,257.49 L570.4,258.25 L572.4,259.03 L574.4,259.81 L576.4,260.61 L578.4,261.43 L580.4,262.27 L582.4,263.13 L584.4,264.02 L586.4,264.95 L588.4,265.91 L590.4,266.93 L592.4,268 L594.4,269.1 L596.4,270.23 L598.4,271.39 L600.4,272.57 L602.4,273.76 L604.4,274.96 L606.4,276.15 L608.4,277.34 L610.4,278.52 L612.4,279.67 L614.4,280.8 L616.4,281.9 L618.4,282.95 L620.4,283.98 L622.4,284.98 L624.4,285.97 L626.4,286.94 L628.4,287.89 L630.4,288.84 L632.4,289.77 L634.4,290.7 L636.4,291.62 L638.4,292.55 L640.4,293.47 L642.4,294.39 L644.4,295.32 L646.4,296.25 L648.4,297.19 L650.4,298.15 L652.4,299.11 L654.4,300.1 L656.4,301.1 L658.4,302.11 L660.4,303.1 L662.4,304.09 L664.4,305.08 L666.4,306.08 L668.4,307.09 L670.4,308.13 L672.4,309.2 L674.4,310.31 L676.4,311.46 L678.4,312.67 L680.4,313.93 L682.4,315.32 L684.4,316.84 L686.4,318.48 L688.4,320.2 L690.4,321.96 L692.4,323.73 L694.4,325.49 L696.4,327.19 L698.4,328.8 L700.4,330.29 L702.4,331.7 L704.4,333.05 L706.4,334.37 L708.4,335.65 L710.4,336.92 L712.4,338.17 L714.4,339.43 L716.4,340.7 L718.4,341.98 L720.4,343.26 L722.4,344.54 L724.4,345.81 L726.4,347.05 L728.4,348.26 L730.4,349.44 L732.4,350.57 L734.4,351.66 L736.4,352.74 L738.4,353.78 L740.4,354.77 L742.4,355.68 L744.4,356.5 L746.4,357.24 L748.4,357.92 L750.4,358.57 L752.4,359.18 L754.4,359.77 L756.4,360.35 L758.4,360.93 L760.4,361.53 L762.4,362.15 L764.4,362.8 L766.4,363.5 L768.4,364.23 L770.4,364.99 L772.4,365.75 L774.4,366.51 L776.4,367.27 L778.4,367.99 L780.4,368.69 L782.4,369.34 L784.4,369.93 L786.4,370.45 L788.4,370.93 L790.4,371.36 L792.4,371.76 L794.4,372.15 L796.4,372.53 L798.4,372.92 L800.4,373.34 L802.4,373.79 L804.4,374.3 L806.4,374.86 L808.4,375.51 L810.4,376.36 L812.4,377.38 L814.4,378.49 L816.4,379.61 L818.4,380.65 L820.4,381.54 L822.4,382.32 L824.4,383.05 L826.4,383.76 L828.4,384.49 L830.4,385.27 L832.4,386.15 L834.4,387.1 L836.4,388.11 L838.4,389.17 L840.4,390.27 L842.4,391.39 L844.4,392.53 L846.4,393.67 L848.4,394.81 L850.4,395.99 L852.4,397.21 L854.4,398.46 L856.4,399.75 L858.4,401.04 L860.4,402.33 L862.4,403.61 L864.4,404.86 L866.4,406.08 L868.4,407.24 L870.4,408.33 L872.4,409.35 L874.4,410.31 L876.4,411.24 L878.4,412.13 L880.4,412.99 L882.4,413.83 L884.4,414.64 L886.4,415.45 L888.4,416.25 L890.4,417.04 L892.4,417.84 L894.4,418.65 L896.4,419.47 L898.4,420.31 L900.4,421.18 L902.4,422.06 L904.4,422.96 L906.4,423.86 L908.4,424.77 L910.4,425.69 L912.4,426.61 L914.4,427.52 L916.4,428.43 L918.4,429.32 L920.4,430.21 L922.4,431.07 L924.4,431.92 L926.4,432.74 L928.4,433.54 L930.4,434.3 L932.4,435.04 L934.4,435.74 L936.4,436.42 L938.4,437.08 L940.4,437.72 L942.4,438.35 L944.4,438.96 L946.4,439.56 L948.4,440.15 L950.4,440.74 L952.4,441.32 L954.4,441.89 L956.4,442.47 L958.4,443.05 L960.4,443.63 L962.4,444.22 L964.4,444.84 L966.4,445.49 L968.4,446.17 L970.4,446.86 L972.4,447.54 L974.4,448.21 L976.4,448.85 L978.4,449.44 L980.4,449.99 L982.4,450.47 L984.4,450.88 L986.4,451.19 L988.4,451.42 L990.4,451.61 L992.4,451.78 L994.4,451.93 L996.4,452.07 L998.4,452.19 L1000.4,452.31 L1002.4,452.42 L1004.4,452.53 L1006.4,452.64 L1008.4,452.75 L1010.4,452.87 L1012.4,452.99 L1014.4,453.14 L1016.4,453.3 L1018.4,453.47 L1020.4,453.65 L1022.4,453.83 L1024.4,454 L1026.4,454.17 L1028.4,454.32 L1030.4,454.46 L1032.4,454.57 L1034.4,454.65 L1036.4,454.69 L1038.4,454.7 L1040.4,454.68 L1042.4,454.65 L1044.4,454.6 L1046.4,454.53 L1048.4,454.46 L1050.4,454.38 L1052.4,454.29 L1054.4,454.2 L1056.4,454.09 L1058.4,453.91 L1060.4,453.68 L1062.4,453.42 L1064.4,453.14 L1066.4,452.84 L1068.4,452.54 L1070.4,452.25 L1072.4,451.98 L1074.4,451.73 L1076.4,451.54 L1078.4,451.39 L1080.4,451.31 L1082.4,451.31 L1084.4,451.35 L1086.4,451.45 L1088.4,451.58 L1090.4,451.75 L1092.4,451.95 L1094.4,452.17 L1096.4,452.41 L1098.4,452.66 L1100.4,452.92 L1102.4,453.17 L1104.4,453.43 L1106.4,453.69 L1108.4,454.01 L1110.4,454.37 L1112.4,454.75 L1114.4,455.14 L1116.4,455.51 L1118.4,455.85 L1120.4,456.14 L1122.4,456.36 L1124.4,456.55 L1126.4,456.73 L1128.4,456.9 L1130.4,457.06 L1132.4,457.2 L1134.4,457.32 L1136.4,457.42 L1138.4,457.49 L1140.4,457.56 L1142.4,457.62 L1144.4,457.68 L1146.4,457.73 L1148.4,457.79 L1150.4,457.83 L1152.4,457.88 L1154.4,457.91 L1156.4,457.94 L1158.4,457.97 L1160.4,457.99 L1162.4,458 L1164.4,458 L1166.4,457.95 L1168.4,457.86 L1170.4,457.73 L1172.4,457.56 L1174.4,457.37 L1176.4,457.17 L1178.4,456.96 L1180.4,456.76 L1182.4,456.55 L1184.4,456.31 L1186.4,456.05 L1188.4,455.78 L1190.4,455.48 L1192.4,455.16 L1194.4,454.83 L1196.4,454.47 L1198.4,454.11 L1200.4,453.72 L1202.4,453.32 L1204.4,452.89 L1206.4,452.43 L1208.4,451.96 L1210.4,451.46 L1212.4,450.94 L1214.4,450.39 L1216.4,449.83 L1218.4,449.24 L1220.4,448.63 L1222.4,448 L1224.4,447.34 L1226.4,446.67 L1228.4,445.97 L1230.4,445.25 L1232.4,444.52 L1234.4,443.76 L1236.4,442.98 L1238.4,442.18 L1240.4,441.37 L1240.8,441.2" fill="none" stroke="#2a2aff" stroke-width="1.05" stroke-linejoin="round"/>
<circle cx="829.3" cy="384.2" r="11.3" fill="#bfc0c6" fill-opacity="0.8" stroke="#77787f" stroke-width="1.6"/>
<text x="1296.4" y="83.8" font-size="14" font-weight="bold" fill="#4a4d57" textLength="37.3" lengthAdjust="spacing">95.90</text>
<text x="1296.4" y="229" font-size="14" font-weight="bold" fill="#131722" textLength="37.3" lengthAdjust="spacing">89.00</text>
<text x="1296.4" y="343.8" font-size="14" font-weight="bold" fill="#3a3d47" textLength="37.3" lengthAdjust="spacing">83.50</text>
<text x="1296.4" y="374.9" font-size="14" font-weight="bold" fill="#3a3d47" textLength="37.3" lengthAdjust="spacing">82.00</text>
<text x="1296.4" y="598.1" font-size="14" font-weight="bold" fill="#131722" textLength="37.3" lengthAdjust="spacing">71.50</text>
<text x="1463.5" y="177.7" font-size="12" fill="#4b8ef5" text-anchor="end" textLength="71" lengthAdjust="spacingAndGlyphs">0.382 (91.42)</text>
<text x="1464" y="480.4" font-size="12" fill="#4b8ef5" text-anchor="end" textLength="58.5" lengthAdjust="spacingAndGlyphs">0.5 (77.02)</text>
<text x="18.1" y="46" font-size="12" fill="#50535e" textLength="20.7" lengthAdjust="spacingAndGlyphs">SMA</text>
<text x="46.6" y="46" font-size="12" fill="#f23645" textLength="29.2" lengthAdjust="spacingAndGlyphs">81.82</text>
<text x="18.1" y="62.9" font-size="12" fill="#50535e" textLength="20.7" lengthAdjust="spacingAndGlyphs">SMA</text>
<text x="46.6" y="62.9" font-size="12" fill="#2a2aff" textLength="29.2" lengthAdjust="spacingAndGlyphs">79.17</text>
<rect x="10" y="667.5" width="1462.5" height="64.0" fill="#f1edfa"/>
<line x1="10" x2="1472.5" y1="667.5" y2="667.5" stroke="#787b86" stroke-width="1" stroke-dasharray="5 6"/>
<line x1="10" x2="1472.5" y1="699.5" y2="699.5" stroke="#b2b5be" stroke-width="1" stroke-dasharray="5 6"/>
<line x1="10" x2="1472.5" y1="731.5" y2="731.5" stroke="#787b86" stroke-width="1" stroke-dasharray="5 6"/>
<defs><linearGradient id="gob" x1="0" y1="0" x2="0" y2="1"><stop offset="0" stop-color="#4caf50" stop-opacity="0.35"/><stop offset="1" stop-color="#4caf50" stop-opacity="0"/></linearGradient></defs>
<polygon points="33.5,667.5 36.5,666.78 47.5,660.38 57.5,659.41 68.5,653.97 78.5,653.58 89.5,652.23 100.5,653.97 106.5,667.5" fill="url(#gob)"/>
<path d="M10.7,684.63 L12.7,684.18 L14.7,683.72 L16.7,683.26 L18.7,682.79 L20.7,682.32 L22.7,681.85 L24.7,681.36 L26.7,680.88 L28.7,680.39 L30.7,679.89 L32.7,679.39 L34.7,678.89 L36.7,678.38 L38.7,677.87 L40.7,677.35 L42.7,676.82 L44.7,676.28 L46.7,675.73 L48.7,675.17 L50.7,674.62 L52.7,674.05 L54.7,673.49 L56.7,672.93 L58.7,672.36 L60.7,671.8 L62.7,671.25 L64.7,670.7 L66.7,670.16 L68.7,669.61 L70.7,669.04 L72.7,668.46 L74.7,667.86 L76.7,667.27 L78.7,666.7 L80.7,666.15 L82.7,665.63 L84.7,665.15 L86.7,664.72 L88.7,664.35 L90.7,664.04 L92.7,663.75 L94.7,663.49 L96.7,663.25 L98.7,663.06 L100.7,662.91 L102.7,662.8 L104.7,662.69 L106.7,662.58 L108.7,662.49 L110.7,662.42 L112.7,662.36 L114.7,662.33 L116.7,662.32 L118.7,662.35 L120.7,662.43 L122.7,662.55 L124.7,662.7 L126.7,662.87 L128.7,663.05 L130.7,663.24 L132.7,663.42 L134.7,663.59 L136.7,663.74 L138.7,663.9 L140.7,664.07 L142.7,664.24 L144.7,664.42 L146.7,664.59 L148.7,664.75 L150.7,664.91 L152.7,665.06 L154.7,665.2 L156.7,665.31 L158.7,665.41 L160.7,665.5 L162.7,665.58 L164.7,665.66 L166.7,665.74 L168.7,665.83 L170.7,665.93 L172.7,666.05 L174.7,666.2 L176.7,666.4 L178.7,666.66 L180.7,666.99 L182.7,667.37 L184.7,667.79 L186.7,668.25 L188.7,668.74 L190.7,669.24 L192.7,669.75 L194.7,670.26 L196.7,670.81 L198.7,671.41 L200.7,672.05 L202.7,672.73 L204.7,673.44 L206.7,674.18 L208.7,674.95 L210.7,675.74 L212.7,676.54 L214.7,677.38 L216.7,678.31 L218.7,679.31 L220.7,680.37 L222.7,681.45 L224.7,682.54 L226.7,683.61 L228.7,684.64 L230.7,685.61 L232.7,686.49 L234.7,687.3 L236.7,688.08 L238.7,688.83 L240.7,689.55 L242.7,690.25 L244.7,690.93 L246.7,691.59 L248.7,692.23 L250.7,692.87 L252.7,693.49 L254.7,694.12 L256.7,694.75 L258.7,695.37 L260.7,695.98 L262.7,696.57 L264.7,697.13 L266.7,697.66 L268.7,698.15 L270.7,698.6 L272.7,698.99 L274.7,699.36 L276.7,699.7 L278.7,700.01 L280.7,700.31 L282.7,700.6 L284.7,700.87 L286.7,701.14 L288.7,701.41 L290.7,701.67 L292.7,701.95 L294.7,702.24 L296.7,702.55 L298.7,702.86 L300.7,703.17 L302.7,703.48 L304.7,703.78 L306.7,704.06 L308.7,704.31 L310.7,704.54 L312.7,704.73 L314.7,704.87 L316.7,704.97 L318.7,705.01 L320.7,705.01 L322.7,704.99 L324.7,704.95 L326.7,704.91 L328.7,704.85 L330.7,704.78 L332.7,704.7 L334.7,704.61 L336.7,704.52 L338.7,704.41 L340.7,704.3 L342.7,704.18 L344.7,704.06 L346.7,703.94 L348.7,703.81 L350.7,703.68 L352.7,703.54 L354.7,703.41 L356.7,703.23 L358.7,703.01 L360.7,702.74 L362.7,702.45 L364.7,702.14 L366.7,701.81 L368.7,701.47 L370.7,701.14 L372.7,700.82 L374.7,700.52 L376.7,700.25 L378.7,700.01 L380.7,699.81 L382.7,699.67 L384.7,699.59 L386.7,699.55 L388.7,699.51 L390.7,699.48 L392.7,699.45 L394.7,699.42 L396.7,699.39 L398.7,699.36 L400.7,699.34 L402.7,699.32 L404.7,699.3 L406.7,699.28 L408.7,699.26 L410.7,699.24 L412.7,699.23 L414.7,699.22 L416.7,699.21 L418.7,699.2 L420.7,699.2 L422.7,699.19 L424.7,699.19 L426.7,699.19 L428.7,699.23 L430.7,699.31 L432.7,699.43 L434.7,699.58 L436.7,699.76 L438.7,699.96 L440.7,700.19 L442.7,700.44 L444.7,700.71 L446.7,700.98 L448.7,701.27 L450.7,701.57 L452.7,701.87 L454.7,702.16 L456.7,702.46 L458.7,702.78 L460.7,703.16 L462.7,703.59 L464.7,704.08 L466.7,704.6 L468.7,705.15 L470.7,705.72 L472.7,706.31 L474.7,706.91 L476.7,707.5 L478.7,708.09 L480.7,708.66 L482.7,709.2 L484.7,709.72 L486.7,710.19 L488.7,710.61 L490.7,710.98 L492.7,711.28 L494.7,711.51 L496.7,711.71 L498.7,711.89 L500.7,712.05 L502.7,712.2 L504.7,712.33 L506.7,712.46 L508.7,712.59 L510.7,712.71 L512.7,712.85 L514.7,712.99 L516.7,713.15 L518.7,713.33 L520.7,713.54 L522.7,713.8 L524.7,714.1 L526.7,714.43 L528.7,714.76 L530.7,715.1 L532.7,715.41 L534.7,715.7 L536.7,715.94 L538.7,716.12 L540.7,716.24 L542.7,716.27 L544.7,716.27 L546.7,716.27 L548.7,716.27 L550.7,716.27 L552.7,716.27 L554.7,716.27 L556.7,716.27 L558.7,716.27 L560.7,716.27 L562.7,716.26 L564.7,716.23 L566.7,716.17 L568.7,716.1 L570.7,716.01 L572.7,715.91 L574.7,715.81 L576.7,715.72 L578.7,715.63 L580.7,715.56 L582.7,715.51 L584.7,715.49 L586.7,715.5 L588.7,715.53 L590.7,715.57 L592.7,715.63 L594.7,715.7 L596.7,715.77 L598.7,715.84 L600.7,715.91 L602.7,715.97 L604.7,716.02 L606.7,716.06 L608.7,716.07 L610.7,716.04 L612.7,715.91 L614.7,715.7 L616.7,715.42 L618.7,715.08 L620.7,714.71 L622.7,714.32 L624.7,713.92 L626.7,713.53 L628.7,713.16 L630.7,712.83 L632.7,712.55 L634.7,712.35 L636.7,712.22 L638.7,712.19 L640.7,712.19 L642.7,712.19 L644.7,712.19 L646.7,712.19 L648.7,712.19 L650.7,712.19 L652.7,712.19 L654.7,712.19 L656.7,712.19 L658.7,712.19 L660.7,712.19 L662.7,712.19 L664.7,712.19 L666.7,712.19 L668.7,712.19 L670.7,712.21 L672.7,712.23 L674.7,712.27 L676.7,712.31 L678.7,712.36 L680.7,712.42 L682.7,712.48 L684.7,712.55 L686.7,712.62 L688.7,712.7 L690.7,712.78 L692.7,712.87 L694.7,713 L696.7,713.15 L698.7,713.32 L700.7,713.51 L702.7,713.72 L704.7,713.93 L706.7,714.15 L708.7,714.37 L710.7,714.59 L712.7,714.8 L714.7,715 L716.7,715.19 L718.7,715.39 L720.7,715.6 L722.7,715.81 L724.7,716.03 L726.7,716.25 L728.7,716.46 L730.7,716.65 L732.7,716.83 L734.7,716.99 L736.7,717.12 L738.7,717.22 L740.7,717.3 L742.7,717.37 L744.7,717.44 L746.7,717.5 L748.7,717.55 L750.7,717.59 L752.7,717.62 L754.7,717.62 L756.7,717.62 L758.7,717.59 L760.7,717.54 L762.7,717.49 L764.7,717.42 L766.7,717.35 L768.7,717.27 L770.7,717.18 L772.7,717.1 L774.7,717.01 L776.7,716.92 L778.7,716.81 L780.7,716.68 L782.7,716.55 L784.7,716.41 L786.7,716.25 L788.7,716.09 L790.7,715.93 L792.7,715.75 L794.7,715.58 L796.7,715.38 L798.7,715.17 L800.7,714.95 L802.7,714.72 L804.7,714.47 L806.7,714.21 L808.7,713.94 L810.7,713.67 L812.7,713.38 L814.7,713.08 L816.7,712.75 L818.7,712.39 L820.7,712.02 L822.7,711.64 L824.7,711.25 L826.7,710.87 L828.7,710.49 L830.7,710.13 L832.7,709.8 L834.7,709.46 L836.7,709.12 L838.7,708.79 L840.7,708.45 L842.7,708.13 L844.7,707.82 L846.7,707.54 L848.7,707.28 L850.7,707.05 L852.7,706.86 L854.7,706.7 L856.7,706.56 L858.7,706.44 L860.7,706.32 L862.7,706.21 L864.7,706.09 L866.7,705.96 L868.7,705.81 L870.7,705.63 L872.7,705.4 L874.7,705.06 L876.7,704.66 L878.7,704.22 L880.7,703.77 L882.7,703.35 L884.7,702.98 L886.7,702.69 L888.7,702.52 L890.7,702.45 L892.7,702.41 L894.7,702.36 L896.7,702.32 L898.7,702.28 L900.7,702.25 L902.7,702.22 L904.7,702.19 L906.7,702.16 L908.7,702.14 L910.7,702.13 L912.7,702.12 L914.7,702.11 L916.7,702.1 L918.7,702.1 L920.7,702.1 L922.7,702.12 L924.7,702.13 L926.7,702.16 L928.7,702.18 L930.7,702.21 L932.7,702.25 L934.7,702.28 L936.7,702.32 L938.7,702.35 L940.7,702.39 L942.7,702.42 L944.7,702.45 L946.7,702.48 L948.7,702.5 L950.7,702.52 L952.7,702.54 L954.7,702.55 L956.7,702.57 L958.7,702.59 L960.7,702.6 L962.7,702.62 L964.7,702.65 L966.7,702.68 L968.7,702.72 L970.7,702.79 L972.7,702.89 L974.7,703 L976.7,703.11 L978.7,703.22 L980.7,703.32 L982.7,703.39 L984.7,703.44 L986.7,703.46 L988.7,703.43 L990.7,703.36 L992.7,703.25 L994.7,703.11 L996.7,702.95 L998.7,702.77 L1000.7,702.58 L1002.7,702.39 L1004.7,702.2 L1006.7,702.01 L1008.7,701.8 L1010.7,701.55 L1012.7,701.29 L1014.7,701.01 L1016.7,700.72 L1018.7,700.43 L1020.7,700.15 L1022.7,699.88 L1024.7,699.63 L1026.7,699.41 L1028.7,699.22 L1030.7,699.03 L1032.7,698.86 L1034.7,698.69 L1036.7,698.51 L1038.7,698.33 L1040.7,698.12 L1042.7,697.89 L1044.7,697.64 L1046.7,697.32 L1048.7,696.92 L1050.7,696.47 L1052.7,695.98 L1054.7,695.47 L1056.7,694.96 L1058.7,694.47 L1060.7,694 L1062.7,693.6 L1064.7,693.25 L1066.7,692.91 L1068.7,692.56 L1070.7,692.21 L1072.7,691.87 L1074.7,691.57 L1076.7,691.3 L1078.7,691.08 L1080.7,690.93 L1082.7,690.85 L1084.7,690.85 L1086.7,690.85 L1088.7,690.86 L1090.7,690.88 L1092.7,690.9 L1094.7,690.92 L1096.7,690.94 L1098.7,690.97 L1100.7,691 L1102.7,691.03 L1104.7,691.08 L1106.7,691.16 L1108.7,691.27 L1110.7,691.39 L1112.7,691.52 L1114.7,691.65 L1116.7,691.77 L1118.7,691.88 L1120.7,691.96 L1122.7,692.02 L1124.7,692.06 L1126.7,692.1 L1128.7,692.14 L1130.7,692.18 L1132.7,692.22 L1134.7,692.25 L1136.7,692.28 L1138.7,692.31 L1140.7,692.33 L1142.7,692.35 L1144.7,692.37 L1146.7,692.38 L1148.7,692.39 L1150.7,692.4 L1152.7,692.38 L1154.7,692.31 L1156.7,692.19 L1158.7,692.05 L1160.7,691.9 L1162.7,691.75 L1164.7,691.63 L1166.7,691.54 L1168.7,691.44 L1170.7,691.33 L1172.7,691.23 L1174.7,691.13 L1176.7,691.04 L1178.7,690.97 L1180.7,690.91 L1182.7,690.86 L1184.7,690.85 L1186.7,690.86 L1188.7,690.94 L1190.7,691.07 L1192.7,691.23 L1194.7,691.41 L1196.7,691.59 L1198.7,691.75 L1200.7,691.89 L1202.7,691.98 L1204.7,692.01 L1206.7,692.01 L1208.7,692.01 L1210.7,692.01 L1212.7,692.01 L1214.7,692 L1216.7,692 L1218.7,692 L1220.7,691.99 L1222.7,691.98 L1224.7,691.98 L1226.7,691.97 L1228.7,691.95 L1230.7,691.94 L1232.7,691.92 L1234.7,691.9 L1236.7,691.88 L1238.7,691.85 L1240.7,691.82 L1241.1,691.81" fill="none" stroke="#fde047" stroke-width="1.3"/>
<path d="M10.7,667.17 L15.5,670.47 L26.5,667.75 L36.5,666.78 L47.5,660.38 L57.5,659.41 L68.5,653.97 L78.5,653.58 L89.5,652.23 L100.5,653.97 L110.5,668.14 L121.5,668.14 L131.5,678.81 L142.5,681.72 L152.5,678.42 L163.5,668.53 L174.5,678.81 L184.5,688.52 L195.5,700.55 L205.5,696.67 L216.5,721.89 L226.5,728.3 L237.5,726.75 L248.5,704.62 L258.5,706.95 L269.5,715.3 L279.5,711.22 L290.5,691.43 L300.5,694.92 L311.5,692.01 L321.5,690.07 L332.5,684.25 L343.5,687.16 L353.5,696.28 L364.5,709.28 L374.5,701.52 L385.5,707.53 L395.5,701.52 L406.5,708.89 L417.5,712.19 L427.5,714.71 L438.5,705.4 L448.5,711.41 L459.5,711.41 L469.5,722.86 L480.5,726.94 L491.5,725.78 L501.5,717.24 L512.5,712.77 L522.5,713.36 L533.5,718.01 L543.5,727.91 L554.5,713.36 L565.5,707.53 L575.5,705.59 L586.5,708.7 L596.5,710.44 L607.5,713.36 L617.5,714.33 L628.5,706.95 L638.5,701.13 L649.5,710.25 L660.5,714.33 L670.5,718.01 L681.5,721.89 L691.5,729.85 L702.5,728.69 L712.5,719.95 L723.5,718.98 L734.5,727.33 L744.5,719.57 L755.5,710.25 L765.5,708.5 L776.5,703.65 L786.5,697.25 L797.5,698.22 L808.5,696.86 L818.5,699.58 L829.5,690.84 L839.5,698.8 L850.5,706.56 L860.5,708.5 L871.5,713.55 L882.5,700.16 L892.5,703.65 L903.5,697.64 L913.5,708.89 L924.5,703.07 L934.5,706.56 L945.5,698.8 L955.5,697.83 L966.5,698.22 L977.5,701.71 L987.5,700.16 L998.5,694.92 L1008.5,696.67 L1019.5,689.87 L1029.5,691.43 L1040.5,687.93 L1051.5,677.84 L1061.5,674.35 L1072.5,683.08 L1082.5,680.75 L1093.5,694.34 L1103.5,703.65 L1114.5,710.44 L1125.5,706.95 L1135.5,702.68 L1146.5,698.8 L1156.5,686.19 L1167.5,685.22 L1177.5,685.02 L1188.5,681.72 L1199.5,690.46 L1209.5,683.28 L1220.5,680.75 L1230.5,680.17 L1241.5,688.52" fill="none" stroke="#7e57c2" stroke-width="1.2" stroke-linejoin="round"/>
<line x1="10" x2="1472.5" y1="768.37" y2="768.37" stroke="#b9bbc2" stroke-width="1" stroke-dasharray="5 6"/>
<g><rect x="11.1" y="764.2" width="8.8" height="4.56" fill="#b2dfdb"/><rect x="22.1" y="764.2" width="8.8" height="4.56" fill="#b2dfdb"/><rect x="32.1" y="765.17" width="8.8" height="3.59" fill="#b2dfdb"/><rect x="43.1" y="765.17" width="8.8" height="3.59" fill="#26a69a"/><rect x="53.1" y="765.17" width="8.8" height="3.59" fill="#b2dfdb"/><rect x="64.1" y="764.2" width="8.8" height="4.56" fill="#26a69a"/><rect x="74.1" y="764.2" width="8.8" height="4.56" fill="#26a69a"/><rect x="85.1" y="764.59" width="8.8" height="4.17" fill="#b2dfdb"/><rect x="96.1" y="765.17" width="8.8" height="3.59" fill="#b2dfdb"/><rect x="106.1" y="766.14" width="8.8" height="2.62" fill="#b2dfdb"/><rect x="117.1" y="767.11" width="8.8" height="1.65" fill="#b2dfdb"/><rect x="127.1" y="767.98" width="8.8" height="0.8" fill="#ff5252"/><rect x="138.1" y="767.98" width="8.8" height="2.43" fill="#ff5252"/><rect x="148.1" y="767.98" width="8.8" height="2.62" fill="#ff5252"/><rect x="159.1" y="767.98" width="8.8" height="2.43" fill="#ffcdd2"/><rect x="170.1" y="767.98" width="8.8" height="2.62" fill="#ff5252"/><rect x="180.1" y="767.98" width="8.8" height="3.59" fill="#ff5252"/><rect x="191.1" y="767.98" width="8.8" height="4.56" fill="#ff5252"/><rect x="201.1" y="767.98" width="8.8" height="5.53" fill="#ff5252"/><rect x="212.1" y="767.98" width="8.8" height="8.44" fill="#ff5252"/><rect x="222.1" y="767.98" width="8.8" height="10.38" fill="#ff5252"/><rect x="233.1" y="767.98" width="8.8" height="11.35" fill="#ff5252"/><rect x="244.1" y="767.98" width="8.8" height="9.41" fill="#ffcdd2"/><rect x="254.1" y="767.98" width="8.8" height="8.44" fill="#ffcdd2"/><rect x="265.1" y="767.98" width="8.8" height="8.44" fill="#ffcdd2"/><rect x="275.1" y="767.98" width="8.8" height="6.5" fill="#ffcdd2"/><rect x="286.1" y="767.98" width="8.8" height="4.95" fill="#ffcdd2"/><rect x="296.1" y="767.98" width="8.8" height="1.46" fill="#ffcdd2"/><rect x="307.1" y="767.5" width="8.8" height="1.26" fill="#26a69a"/><rect x="317.1" y="767.11" width="8.8" height="1.65" fill="#26a69a"/><rect x="328.1" y="765.17" width="8.8" height="3.59" fill="#26a69a"/><rect x="339.1" y="764.78" width="8.8" height="3.98" fill="#26a69a"/><rect x="349.1" y="767.11" width="8.8" height="1.65" fill="#b2dfdb"/><rect x="360.1" y="767.69" width="8.8" height="1.07" fill="#b2dfdb"/><rect x="370.1" y="767.98" width="8.8" height="1.65" fill="#ff5252"/><rect x="381.1" y="767.98" width="8.8" height="2.62" fill="#ff5252"/><rect x="391.1" y="767.98" width="8.8" height="2.04" fill="#ffcdd2"/><rect x="402.1" y="767.98" width="8.8" height="3.59" fill="#ff5252"/><rect x="413.1" y="767.98" width="8.8" height="4.95" fill="#ff5252"/><rect x="423.1" y="767.98" width="8.8" height="5.92" fill="#ff5252"/><rect x="434.1" y="767.98" width="8.8" height="3.59" fill="#ffcdd2"/><rect x="444.1" y="767.98" width="8.8" height="4.95" fill="#ff5252"/><rect x="455.1" y="767.98" width="8.8" height="4.95" fill="#ffcdd2"/><rect x="465.1" y="767.98" width="8.8" height="6.5" fill="#ff5252"/><rect x="476.1" y="767.98" width="8.8" height="7.86" fill="#ff5252"/><rect x="487.1" y="767.98" width="8.8" height="7.86" fill="#ff5252"/><rect x="497.1" y="767.98" width="8.8" height="6.89" fill="#ffcdd2"/><rect x="508.1" y="767.98" width="8.8" height="5.92" fill="#ffcdd2"/><rect x="518.1" y="767.98" width="8.8" height="3.98" fill="#ffcdd2"/><rect x="529.1" y="767.98" width="8.8" height="3.98" fill="#ffcdd2"/><rect x="539.1" y="767.98" width="8.8" height="4.95" fill="#ff5252"/><rect x="550.1" y="767.98" width="8.8" height="3.59" fill="#ffcdd2"/><rect x="561.1" y="767.98" width="8.8" height="2.62" fill="#ffcdd2"/><rect x="571.1" y="767.69" width="8.8" height="1.07" fill="#26a69a"/><rect x="582.1" y="766.72" width="8.8" height="2.04" fill="#26a69a"/><rect x="592.1" y="766.72" width="8.8" height="2.04" fill="#26a69a"/><rect x="603.1" y="767.11" width="8.8" height="1.65" fill="#b2dfdb"/><rect x="613.1" y="767.11" width="8.8" height="1.65" fill="#b2dfdb"/><rect x="624.1" y="766.72" width="8.8" height="2.04" fill="#26a69a"/><rect x="634.1" y="764.78" width="8.8" height="3.98" fill="#26a69a"/><rect x="645.1" y="765.75" width="8.8" height="3.01" fill="#b2dfdb"/><rect x="656.1" y="766.72" width="8.8" height="2.04" fill="#b2dfdb"/><rect x="666.1" y="767.69" width="8.8" height="1.07" fill="#b2dfdb"/><rect x="677.1" y="767.98" width="8.8" height="1.65" fill="#ff5252"/><rect x="687.1" y="767.98" width="8.8" height="3.98" fill="#ff5252"/><rect x="698.1" y="767.98" width="8.8" height="4.95" fill="#ff5252"/><rect x="708.1" y="767.98" width="8.8" height="3.98" fill="#ffcdd2"/><rect x="719.1" y="767.98" width="8.8" height="3.98" fill="#ffcdd2"/><rect x="730.1" y="767.98" width="8.8" height="3.98" fill="#ff5252"/><rect x="740.1" y="767.98" width="8.8" height="3.98" fill="#ffcdd2"/><rect x="751.1" y="767.98" width="8.8" height="1.46" fill="#ffcdd2"/><rect x="761.1" y="767.5" width="8.8" height="1.26" fill="#26a69a"/><rect x="772.1" y="765.75" width="8.8" height="3.01" fill="#26a69a"/><rect x="782.1" y="763.81" width="8.8" height="4.95" fill="#26a69a"/><rect x="793.1" y="762.65" width="8.8" height="6.11" fill="#26a69a"/><rect x="804.1" y="762.65" width="8.8" height="6.11" fill="#26a69a"/><rect x="814.1" y="762.65" width="8.8" height="6.11" fill="#b2dfdb"/><rect x="825.1" y="761.87" width="8.8" height="6.89" fill="#26a69a"/><rect x="835.1" y="762.84" width="8.8" height="5.92" fill="#b2dfdb"/><rect x="846.1" y="763.81" width="8.8" height="4.95" fill="#b2dfdb"/><rect x="856.1" y="765.17" width="8.8" height="3.59" fill="#b2dfdb"/><rect x="867.1" y="767.11" width="8.8" height="1.65" fill="#b2dfdb"/><rect x="878.1" y="766.14" width="8.8" height="2.62" fill="#26a69a"/><rect x="888.1" y="767.11" width="8.8" height="1.65" fill="#b2dfdb"/><rect x="899.1" y="766.14" width="8.8" height="2.62" fill="#26a69a"/><rect x="909.1" y="767.11" width="8.8" height="1.65" fill="#b2dfdb"/><rect x="920.1" y="767.5" width="8.8" height="1.26" fill="#b2dfdb"/><rect x="930.1" y="767.89" width="8.8" height="0.87" fill="#b2dfdb"/><rect x="941.1" y="767.11" width="8.8" height="1.65" fill="#26a69a"/><rect x="951.1" y="767.11" width="8.8" height="1.65" fill="#26a69a"/><rect x="962.1" y="767.11" width="8.8" height="1.65" fill="#26a69a"/><rect x="973.1" y="767.3" width="8.8" height="1.46" fill="#b2dfdb"/><rect x="983.1" y="767.3" width="8.8" height="1.46" fill="#b2dfdb"/><rect x="994.1" y="766.14" width="8.8" height="2.62" fill="#26a69a"/><rect x="1004.1" y="766.14" width="8.8" height="2.62" fill="#26a69a"/><rect x="1015.1" y="766.14" width="8.8" height="2.62" fill="#26a69a"/><rect x="1025.1" y="766.14" width="8.8" height="2.62" fill="#26a69a"/><rect x="1036.1" y="765.17" width="8.8" height="3.59" fill="#26a69a"/><rect x="1047.1" y="764.2" width="8.8" height="4.56" fill="#26a69a"/><rect x="1057.1" y="762.84" width="8.8" height="5.92" fill="#26a69a"/><rect x="1068.1" y="764.2" width="8.8" height="4.56" fill="#b2dfdb"/><rect x="1078.1" y="764.78" width="8.8" height="3.98" fill="#b2dfdb"/><rect x="1089.1" y="765.17" width="8.8" height="3.59" fill="#b2dfdb"/><rect x="1099.1" y="767.11" width="8.8" height="1.65" fill="#b2dfdb"/><rect x="1110.1" y="767.98" width="8.8" height="1.65" fill="#ff5252"/><rect x="1121.1" y="767.98" width="8.8" height="2.62" fill="#ff5252"/><rect x="1131.1" y="767.98" width="8.8" height="2.62" fill="#ff5252"/><rect x="1142.1" y="767.98" width="8.8" height="2.43" fill="#ffcdd2"/><rect x="1152.1" y="767.98" width="8.8" height="1.46" fill="#ffcdd2"/><rect x="1163.1" y="767.11" width="8.8" height="1.65" fill="#26a69a"/><rect x="1173.1" y="767.11" width="8.8" height="1.65" fill="#26a69a"/><rect x="1184.1" y="766.14" width="8.8" height="2.62" fill="#26a69a"/><rect x="1195.1" y="767.11" width="8.8" height="1.65" fill="#b2dfdb"/><rect x="1205.1" y="766.14" width="8.8" height="2.62" fill="#26a69a"/><rect x="1216.1" y="766.14" width="8.8" height="2.62" fill="#26a69a"/><rect x="1226.1" y="766.14" width="8.8" height="2.62" fill="#26a69a"/><rect x="1237.1" y="766.14" width="8.8" height="2.62" fill="#b2dfdb"/></g>
<path d="M10.67,753.91 L12.67,753.79 L14.67,753.65 L16.67,753.51 L18.67,753.36 L20.67,753.21 L22.67,753.05 L24.67,752.89 L26.67,752.72 L28.67,752.54 L30.67,752.36 L32.67,752.18 L34.67,751.99 L36.67,751.8 L38.67,751.6 L40.67,751.39 L42.67,751.16 L44.67,750.92 L46.67,750.67 L48.67,750.4 L50.67,750.13 L52.67,749.85 L54.67,749.58 L56.67,749.31 L58.67,749.04 L60.67,748.79 L62.67,748.55 L64.67,748.32 L66.67,748.12 L68.67,747.93 L70.67,747.73 L72.67,747.53 L74.67,747.34 L76.67,747.15 L78.67,746.98 L80.67,746.81 L82.67,746.67 L84.67,746.54 L86.67,746.44 L88.67,746.36 L90.67,746.31 L92.67,746.26 L94.67,746.22 L96.67,746.18 L98.67,746.16 L100.67,746.15 L102.67,746.17 L104.67,746.21 L106.67,746.29 L108.67,746.39 L110.67,746.52 L112.67,746.66 L114.67,746.82 L116.67,746.99 L118.67,747.17 L120.67,747.35 L122.67,747.59 L124.67,747.91 L126.67,748.29 L128.67,748.69 L130.67,749.1 L132.67,749.49 L134.67,749.85 L136.67,750.16 L138.67,750.47 L140.67,750.79 L142.67,751.1 L144.67,751.39 L146.67,751.64 L148.67,751.83 L150.67,751.95 L152.67,752 L154.67,752.03 L156.67,752.05 L158.67,752.07 L160.67,752.08 L162.67,752.1 L164.67,752.13 L166.67,752.16 L168.67,752.23 L170.67,752.36 L172.67,752.54 L174.67,752.76 L176.67,753.02 L178.67,753.29 L180.67,753.58 L182.67,753.87 L184.67,754.15 L186.67,754.44 L188.67,754.74 L190.67,755.06 L192.67,755.4 L194.67,755.77 L196.67,756.16 L198.67,756.58 L200.67,757.03 L202.67,757.51 L204.67,758.05 L206.67,758.7 L208.67,759.46 L210.67,760.29 L212.67,761.17 L214.67,762.06 L216.67,762.94 L218.67,763.81 L220.67,764.74 L222.67,765.71 L224.67,766.66 L226.67,767.55 L228.67,768.35 L230.67,769.09 L232.67,769.85 L234.67,770.54 L236.67,771.07 L238.67,771.38 L240.67,771.51 L242.67,771.6 L244.67,771.67 L246.67,771.73 L248.67,771.79 L250.67,771.87 L252.67,771.99 L254.67,772.2 L256.67,772.5 L258.67,772.85 L260.67,773.23 L262.67,773.6 L264.67,773.93 L266.67,774.19 L268.67,774.35 L270.67,774.5 L272.67,774.63 L274.67,774.74 L276.67,774.83 L278.67,774.87 L280.67,774.84 L282.67,774.68 L284.67,774.41 L286.67,774.06 L288.67,773.65 L290.67,773.22 L292.67,772.79 L294.67,772.4 L296.67,772.05 L298.67,771.69 L300.67,771.31 L302.67,770.93 L304.67,770.55 L306.67,770.16 L308.67,769.78 L310.67,769.38 L312.67,768.97 L314.67,768.55 L316.67,768.13 L318.67,767.7 L320.67,767.28 L322.67,766.87 L324.67,766.47 L326.67,766.11 L328.67,765.77 L330.67,765.44 L332.67,765.08 L334.67,764.74 L336.67,764.45 L338.67,764.26 L340.67,764.2 L342.67,764.2 L344.67,764.2 L346.67,764.2 L348.67,764.2 L350.67,764.2 L352.67,764.21 L354.67,764.37 L356.67,764.68 L358.67,765.11 L360.67,765.6 L362.67,766.11 L364.67,766.58 L366.67,766.97 L368.67,767.24 L370.67,767.48 L372.67,767.69 L374.67,767.89 L376.67,768.07 L378.67,768.25 L380.67,768.42 L382.67,768.61 L384.67,768.8 L386.67,769.01 L388.67,769.24 L390.67,769.47 L392.67,769.72 L394.67,769.97 L396.67,770.22 L398.67,770.48 L400.67,770.75 L402.67,771.03 L404.67,771.32 L406.67,771.61 L408.67,771.94 L410.67,772.3 L412.67,772.7 L414.67,773.1 L416.67,773.5 L418.67,773.88 L420.67,774.23 L422.67,774.53 L424.67,774.77 L426.67,774.93 L428.67,775.07 L430.67,775.18 L432.67,775.28 L434.67,775.37 L436.67,775.45 L438.67,775.53 L440.67,775.61 L442.67,775.7 L444.67,775.81 L446.67,775.93 L448.67,776.04 L450.67,776.15 L452.67,776.28 L454.67,776.42 L456.67,776.59 L458.67,776.8 L460.67,777.12 L462.67,777.63 L464.67,778.27 L466.67,779 L468.67,779.76 L470.67,780.51 L472.67,781.19 L474.67,781.75 L476.67,782.26 L478.67,782.78 L480.67,783.27 L482.67,783.73 L484.67,784.12 L486.67,784.43 L488.67,784.65 L490.67,784.84 L492.67,785.02 L494.67,785.18 L496.67,785.32 L498.67,785.43 L500.67,785.5 L502.67,785.54 L504.67,785.54 L506.67,785.48 L508.67,785.37 L510.67,785.24 L512.67,785.1 L514.67,784.95 L516.67,784.81 L518.67,784.69 L520.67,784.61 L522.67,784.58 L524.67,784.6 L526.67,784.69 L528.67,784.82 L530.67,784.98 L532.67,785.17 L534.67,785.56 L536.67,786.18 L538.67,786.84 L540.67,787.34 L542.67,787.49 L544.67,787.49 L546.67,787.49 L548.67,787.49 L550.67,787.49 L552.67,787.49 L554.67,787.47 L556.67,787.33 L558.67,787.05 L560.67,786.68 L562.67,786.24 L564.67,785.79 L566.67,785.35 L568.67,784.96 L570.67,784.66 L572.67,784.46 L574.67,784.29 L576.67,784.14 L578.67,784.01 L580.67,783.88 L582.67,783.76 L584.67,783.63 L586.67,783.48 L588.67,783.31 L590.67,783.13 L592.67,782.96 L594.67,782.81 L596.67,782.7 L598.67,782.64 L600.67,782.64 L602.67,782.64 L604.67,782.64 L606.67,782.64 L608.67,782.64 L610.67,782.64 L612.67,782.64 L614.67,782.64 L616.67,782.64 L618.67,782.64 L620.67,782.55 L622.67,782.3 L624.67,781.91 L626.67,781.45 L628.67,780.95 L630.67,780.44 L632.67,779.99 L634.67,779.63 L636.67,779.4 L638.67,779.34 L640.67,779.34 L642.67,779.34 L644.67,779.34 L646.67,779.34 L648.67,779.34 L650.67,779.34 L652.67,779.34 L654.67,779.41 L656.67,779.54 L658.67,779.71 L660.67,779.92 L662.67,780.15 L664.67,780.39 L666.67,780.62 L668.67,780.85 L670.67,781.09 L672.67,781.35 L674.67,781.64 L676.67,781.94 L678.67,782.26 L680.67,782.59 L682.67,782.99 L684.67,783.5 L686.67,784.08 L688.67,784.69 L690.67,785.31 L692.67,785.88 L694.67,786.39 L696.67,786.78 L698.67,787.03 L700.67,787.1 L702.67,787.1 L704.67,787.1 L706.67,787.1 L708.67,787.1 L710.67,787.1 L712.67,787.1 L714.67,787.1 L716.67,787.1 L718.67,787.1 L720.67,787.11 L722.67,787.23 L724.67,787.42 L726.67,787.67 L728.67,787.93 L730.67,788.17 L732.67,788.36 L734.67,788.45 L736.67,788.46 L738.67,788.46 L740.67,788.46 L742.67,788.46 L744.67,788.46 L746.67,788.4 L748.67,788.21 L750.67,787.9 L752.67,787.53 L754.67,787.11 L756.67,786.68 L758.67,786.26 L760.67,785.9 L762.67,785.57 L764.67,785.25 L766.67,784.93 L768.67,784.59 L770.67,784.25 L772.67,783.88 L774.67,783.48 L776.67,783.03 L778.67,782.54 L780.67,782.02 L782.67,781.48 L784.67,780.93 L786.67,780.39 L788.67,779.87 L790.67,779.37 L792.67,778.92 L794.67,778.52 L796.67,778.14 L798.67,777.79 L800.67,777.45 L802.67,777.13 L804.67,776.81 L806.67,776.49 L808.67,776.17 L810.67,775.84 L812.67,775.49 L814.67,775.11 L816.67,774.68 L818.67,774.24 L820.67,773.79 L822.67,773.38 L824.67,773.01 L826.67,772.72 L828.67,772.52 L830.67,772.37 L832.67,772.23 L834.67,772.12 L836.67,772.03 L838.67,771.97 L840.67,771.96 L842.67,771.99 L844.67,772.04 L846.67,772.1 L848.67,772.19 L850.67,772.29 L852.67,772.39 L854.67,772.5 L856.67,772.61 L858.67,772.79 L860.67,773.01 L862.67,773.25 L864.67,773.48 L866.67,773.68 L868.67,773.83 L870.67,773.9 L872.67,773.89 L874.67,773.85 L876.67,773.78 L878.67,773.68 L880.67,773.57 L882.67,773.44 L884.67,773.3 L886.67,773.15 L888.67,773.01 L890.67,772.87 L892.67,772.73 L894.67,772.61 L896.67,772.51 L898.67,772.43 L900.67,772.37 L902.67,772.35 L904.67,772.38 L906.67,772.49 L908.67,772.64 L910.67,772.83 L912.67,773.01 L914.67,773.17 L916.67,773.28 L918.67,773.32 L920.67,773.31 L922.67,773.27 L924.67,773.21 L926.67,773.13 L928.67,773.04 L930.67,772.94 L932.67,772.82 L934.67,772.7 L936.67,772.58 L938.67,772.45 L940.67,772.33 L942.67,772.21 L944.67,772.1 L946.67,772 L948.67,771.92 L950.67,771.83 L952.67,771.76 L954.67,771.68 L956.67,771.61 L958.67,771.53 L960.67,771.46 L962.67,771.39 L964.67,771.32 L966.67,771.25 L968.67,771.18 L970.67,771.11 L972.67,771.03 L974.67,770.95 L976.67,770.87 L978.67,770.79 L980.67,770.7 L982.67,770.6 L984.67,770.5 L986.67,770.4 L988.67,770.28 L990.67,770.16 L992.67,770.02 L994.67,769.88 L996.67,769.72 L998.67,769.57 L1000.67,769.4 L1002.67,769.23 L1004.67,769.06 L1006.67,768.88 L1008.67,768.7 L1010.67,768.52 L1012.67,768.34 L1014.67,768.16 L1016.67,767.98 L1018.67,767.81 L1020.67,767.63 L1022.67,767.45 L1024.67,767.27 L1026.67,767.08 L1028.67,766.88 L1030.67,766.66 L1032.67,766.43 L1034.67,766.18 L1036.67,765.88 L1038.67,765.52 L1040.67,765.1 L1042.67,764.66 L1044.67,764.19 L1046.67,763.73 L1048.67,763.28 L1050.67,762.87 L1052.67,762.51 L1054.67,762.22 L1056.67,761.97 L1058.67,761.74 L1060.67,761.53 L1062.67,761.33 L1064.67,761.14 L1066.67,760.97 L1068.67,760.8 L1070.67,760.64 L1072.67,760.47 L1074.67,760.29 L1076.67,760.13 L1078.67,760.01 L1080.67,759.94 L1082.67,759.94 L1084.67,760.01 L1086.67,760.13 L1088.67,760.29 L1090.67,760.47 L1092.67,760.66 L1094.67,760.88 L1096.67,761.17 L1098.67,761.53 L1100.67,761.93 L1102.67,762.36 L1104.67,762.79 L1106.67,763.22 L1108.67,763.61 L1110.67,764.01 L1112.67,764.44 L1114.67,764.88 L1116.67,765.3 L1118.67,765.67 L1120.67,765.97 L1122.67,766.17 L1124.67,766.33 L1126.67,766.48 L1128.67,766.62 L1130.67,766.75 L1132.67,766.86 L1134.67,766.95 L1136.67,767.03 L1138.67,767.08 L1140.67,767.11 L1142.67,767.09 L1144.67,766.98 L1146.67,766.77 L1148.67,766.49 L1150.67,766.17 L1152.67,765.84 L1154.67,765.52 L1156.67,765.24 L1158.67,764.99 L1160.67,764.73 L1162.67,764.45 L1164.67,764.17 L1166.67,763.89 L1168.67,763.62 L1170.67,763.37 L1172.67,763.14 L1174.67,762.95 L1176.67,762.79 L1178.67,762.68 L1180.67,762.61 L1182.67,762.56 L1184.67,762.52 L1186.67,762.48 L1188.67,762.46 L1190.67,762.43 L1192.67,762.4 L1194.67,762.36 L1196.67,762.32 L1198.67,762.26 L1200.67,762.18 L1202.67,762.06 L1204.67,761.92 L1206.67,761.75 L1208.67,761.57 L1210.67,761.37 L1212.67,761.18 L1214.67,761 L1216.67,760.83 L1218.67,760.67 L1220.67,760.51 L1222.67,760.33 L1224.67,760.16 L1226.67,760.03 L1228.67,759.94 L1230.67,759.93 L1232.67,759.93 L1234.67,759.93 L1236.67,759.93 L1238.67,759.93 L1240.67,759.93 L1241.12,759.93" fill="none" stroke="#2962ff" stroke-width="1.2"/>
<path d="M10.67,757.8 L12.67,757.65 L14.67,757.5 L16.67,757.35 L18.67,757.19 L20.67,757.03 L22.67,756.87 L24.67,756.71 L26.67,756.54 L28.67,756.37 L30.67,756.2 L32.67,756.02 L34.67,755.84 L36.67,755.66 L38.67,755.48 L40.67,755.29 L42.67,755.1 L44.67,754.9 L46.67,754.7 L48.67,754.5 L50.67,754.29 L52.67,754.08 L54.67,753.86 L56.67,753.65 L58.67,753.43 L60.67,753.22 L62.67,753.01 L64.67,752.79 L66.67,752.58 L68.67,752.37 L70.67,752.15 L72.67,751.92 L74.67,751.69 L76.67,751.45 L78.67,751.22 L80.67,751 L82.67,750.79 L84.67,750.6 L86.67,750.42 L88.67,750.27 L90.67,750.13 L92.67,750 L94.67,749.87 L96.67,749.75 L98.67,749.64 L100.67,749.54 L102.67,749.44 L104.67,749.36 L106.67,749.3 L108.67,749.26 L110.67,749.22 L112.67,749.19 L114.67,749.16 L116.67,749.13 L118.67,749.11 L120.67,749.09 L122.67,749.07 L124.67,749.06 L126.67,749.06 L128.67,749.08 L130.67,749.11 L132.67,749.16 L134.67,749.23 L136.67,749.3 L138.67,749.37 L140.67,749.45 L142.67,749.54 L144.67,749.61 L146.67,749.69 L148.67,749.76 L150.67,749.85 L152.67,749.94 L154.67,750.03 L156.67,750.12 L158.67,750.22 L160.67,750.31 L162.67,750.41 L164.67,750.51 L166.67,750.6 L168.67,750.7 L170.67,750.79 L172.67,750.88 L174.67,750.97 L176.67,751.06 L178.67,751.15 L180.67,751.25 L182.67,751.36 L184.67,751.48 L186.67,751.61 L188.67,751.75 L190.67,751.91 L192.67,752.07 L194.67,752.25 L196.67,752.45 L198.67,752.66 L200.67,752.88 L202.67,753.13 L204.67,753.39 L206.67,753.67 L208.67,754.01 L210.67,754.41 L212.67,754.84 L214.67,755.31 L216.67,755.8 L218.67,756.3 L220.67,756.8 L222.67,757.29 L224.67,757.77 L226.67,758.26 L228.67,758.77 L230.67,759.29 L232.67,759.81 L234.67,760.33 L236.67,760.84 L238.67,761.34 L240.67,761.82 L242.67,762.28 L244.67,762.72 L246.67,763.15 L248.67,763.58 L250.67,764 L252.67,764.4 L254.67,764.8 L256.67,765.18 L258.67,765.56 L260.67,765.91 L262.67,766.26 L264.67,766.6 L266.67,766.94 L268.67,767.28 L270.67,767.59 L272.67,767.89 L274.67,768.15 L276.67,768.38 L278.67,768.58 L280.67,768.78 L282.67,768.97 L284.67,769.15 L286.67,769.29 L288.67,769.39 L290.67,769.44 L292.67,769.44 L294.67,769.44 L296.67,769.44 L298.67,769.44 L300.67,769.44 L302.67,769.44 L304.67,769.44 L306.67,769.44 L308.67,769.44 L310.67,769.43 L312.67,769.36 L314.67,769.25 L316.67,769.11 L318.67,768.94 L320.67,768.76 L322.67,768.57 L324.67,768.39 L326.67,768.23 L328.67,768.09 L330.67,767.97 L332.67,767.84 L334.67,767.7 L336.67,767.57 L338.67,767.44 L340.67,767.33 L342.67,767.24 L344.67,767.16 L346.67,767.12 L348.67,767.11 L350.67,767.11 L352.67,767.11 L354.67,767.11 L356.67,767.11 L358.67,767.11 L360.67,767.11 L362.67,767.11 L364.67,767.11 L366.67,767.11 L368.67,767.12 L370.67,767.15 L372.67,767.22 L374.67,767.32 L376.67,767.43 L378.67,767.56 L380.67,767.69 L382.67,767.82 L384.67,767.95 L386.67,768.06 L388.67,768.16 L390.67,768.25 L392.67,768.34 L394.67,768.42 L396.67,768.51 L398.67,768.6 L400.67,768.7 L402.67,768.81 L404.67,768.93 L406.67,769.07 L408.67,769.25 L410.67,769.48 L412.67,769.75 L414.67,770.04 L416.67,770.35 L418.67,770.66 L420.67,770.95 L422.67,771.22 L424.67,771.46 L426.67,771.65 L428.67,771.81 L430.67,771.96 L432.67,772.1 L434.67,772.24 L436.67,772.36 L438.67,772.49 L440.67,772.62 L442.67,772.75 L444.67,772.89 L446.67,773.04 L448.67,773.19 L450.67,773.33 L452.67,773.48 L454.67,773.64 L456.67,773.79 L458.67,773.95 L460.67,774.12 L462.67,774.3 L464.67,774.49 L466.67,774.69 L468.67,774.9 L470.67,775.13 L472.67,775.37 L474.67,775.62 L476.67,775.87 L478.67,776.13 L480.67,776.38 L482.67,776.64 L484.67,776.89 L486.67,777.15 L488.67,777.41 L490.67,777.68 L492.67,777.96 L494.67,778.23 L496.67,778.49 L498.67,778.75 L500.67,779.01 L502.67,779.25 L504.67,779.47 L506.67,779.68 L508.67,779.88 L510.67,780.08 L512.67,780.27 L514.67,780.46 L516.67,780.65 L518.67,780.84 L520.67,781.04 L522.67,781.26 L524.67,781.48 L526.67,781.74 L528.67,782 L530.67,782.28 L532.67,782.55 L534.67,782.81 L536.67,783.06 L538.67,783.29 L540.67,783.48 L542.67,783.63 L544.67,783.78 L546.67,783.92 L548.67,784.06 L550.67,784.18 L552.67,784.3 L554.67,784.4 L556.67,784.48 L558.67,784.54 L560.67,784.57 L562.67,784.58 L564.67,784.58 L566.67,784.58 L568.67,784.58 L570.67,784.58 L572.67,784.58 L574.67,784.58 L576.67,784.58 L578.67,784.57 L580.67,784.53 L582.67,784.46 L584.67,784.37 L586.67,784.26 L588.67,784.15 L590.67,784.03 L592.67,783.91 L594.67,783.8 L596.67,783.7 L598.67,783.63 L600.67,783.57 L602.67,783.52 L604.67,783.48 L606.67,783.44 L608.67,783.41 L610.67,783.37 L612.67,783.34 L614.67,783.31 L616.67,783.28 L618.67,783.25 L620.67,783.21 L622.67,783.17 L624.67,783.13 L626.67,783.08 L628.67,783.02 L630.67,782.94 L632.67,782.84 L634.67,782.71 L636.67,782.56 L638.67,782.4 L640.67,782.24 L642.67,782.07 L644.67,781.91 L646.67,781.76 L648.67,781.61 L650.67,781.49 L652.67,781.39 L654.67,781.32 L656.67,781.28 L658.67,781.28 L660.67,781.29 L662.67,781.31 L664.67,781.34 L666.67,781.38 L668.67,781.42 L670.67,781.48 L672.67,781.53 L674.67,781.59 L676.67,781.65 L678.67,781.73 L680.67,781.84 L682.67,781.99 L684.67,782.15 L686.67,782.33 L688.67,782.52 L690.67,782.71 L692.67,782.9 L694.67,783.08 L696.67,783.24 L698.67,783.38 L700.67,783.53 L702.67,783.67 L704.67,783.81 L706.67,783.94 L708.67,784.08 L710.67,784.22 L712.67,784.36 L714.67,784.49 L716.67,784.63 L718.67,784.78 L720.67,784.93 L722.67,785.09 L724.67,785.24 L726.67,785.39 L728.67,785.54 L730.67,785.67 L732.67,785.8 L734.67,785.91 L736.67,786 L738.67,786.11 L740.67,786.21 L742.67,786.3 L744.67,786.39 L746.67,786.45 L748.67,786.5 L750.67,786.52 L752.67,786.5 L754.67,786.44 L756.67,786.36 L758.67,786.26 L760.67,786.14 L762.67,786.03 L764.67,785.92 L766.67,785.81 L768.67,785.69 L770.67,785.56 L772.67,785.43 L774.67,785.28 L776.67,785.14 L778.67,784.98 L780.67,784.83 L782.67,784.67 L784.67,784.5 L786.67,784.33 L788.67,784.15 L790.67,783.97 L792.67,783.78 L794.67,783.58 L796.67,783.37 L798.67,783.15 L800.67,782.93 L802.67,782.69 L804.67,782.45 L806.67,782.18 L808.67,781.88 L810.67,781.58 L812.67,781.26 L814.67,780.94 L816.67,780.62 L818.67,780.3 L820.67,780 L822.67,779.71 L824.67,779.43 L826.67,779.15 L828.67,778.87 L830.67,778.6 L832.67,778.33 L834.67,778.07 L836.67,777.82 L838.67,777.57 L840.67,777.34 L842.67,777.13 L844.67,776.91 L846.67,776.7 L848.67,776.49 L850.67,776.29 L852.67,776.1 L854.67,775.92 L856.67,775.76 L858.67,775.62 L860.67,775.49 L862.67,775.39 L864.67,775.29 L866.67,775.2 L868.67,775.12 L870.67,775.03 L872.67,774.95 L874.67,774.88 L876.67,774.81 L878.67,774.74 L880.67,774.68 L882.67,774.61 L884.67,774.55 L886.67,774.5 L888.67,774.44 L890.67,774.39 L892.67,774.33 L894.67,774.28 L896.67,774.23 L898.67,774.17 L900.67,774.12 L902.67,774.07 L904.67,774.02 L906.67,773.96 L908.67,773.91 L910.67,773.85 L912.67,773.8 L914.67,773.75 L916.67,773.7 L918.67,773.65 L920.67,773.6 L922.67,773.55 L924.67,773.5 L926.67,773.46 L928.67,773.41 L930.67,773.37 L932.67,773.32 L934.67,773.27 L936.67,773.22 L938.67,773.17 L940.67,773.12 L942.67,773.07 L944.67,773.02 L946.67,772.96 L948.67,772.9 L950.67,772.84 L952.67,772.78 L954.67,772.72 L956.67,772.66 L958.67,772.59 L960.67,772.53 L962.67,772.46 L964.67,772.39 L966.67,772.32 L968.67,772.25 L970.67,772.18 L972.67,772.11 L974.67,772.04 L976.67,771.96 L978.67,771.88 L980.67,771.81 L982.67,771.73 L984.67,771.65 L986.67,771.56 L988.67,771.48 L990.67,771.4 L992.67,771.31 L994.67,771.23 L996.67,771.14 L998.67,771.05 L1000.67,770.96 L1002.67,770.87 L1004.67,770.77 L1006.67,770.67 L1008.67,770.58 L1010.67,770.47 L1012.67,770.37 L1014.67,770.26 L1016.67,770.15 L1018.67,770.03 L1020.67,769.92 L1022.67,769.8 L1024.67,769.67 L1026.67,769.54 L1028.67,769.4 L1030.67,769.26 L1032.67,769.1 L1034.67,768.94 L1036.67,768.78 L1038.67,768.61 L1040.67,768.43 L1042.67,768.25 L1044.67,768.06 L1046.67,767.87 L1048.67,767.68 L1050.67,767.48 L1052.67,767.28 L1054.67,767.08 L1056.67,766.86 L1058.67,766.62 L1060.67,766.37 L1062.67,766.11 L1064.67,765.85 L1066.67,765.59 L1068.67,765.34 L1070.67,765.11 L1072.67,764.89 L1074.67,764.69 L1076.67,764.49 L1078.67,764.27 L1080.67,764.06 L1082.67,763.85 L1084.67,763.66 L1086.67,763.5 L1088.67,763.36 L1090.67,763.27 L1092.67,763.23 L1094.67,763.23 L1096.67,763.25 L1098.67,763.27 L1100.67,763.3 L1102.67,763.35 L1104.67,763.39 L1106.67,763.45 L1108.67,763.5 L1110.67,763.56 L1112.67,763.62 L1114.67,763.7 L1116.67,763.79 L1118.67,763.91 L1120.67,764.04 L1122.67,764.18 L1124.67,764.33 L1126.67,764.47 L1128.67,764.6 L1130.67,764.71 L1132.67,764.82 L1134.67,764.92 L1136.67,765.03 L1138.67,765.13 L1140.67,765.24 L1142.67,765.33 L1144.67,765.42 L1146.67,765.48 L1148.67,765.53 L1150.67,765.56 L1152.67,765.55 L1154.67,765.52 L1156.67,765.46 L1158.67,765.38 L1160.67,765.28 L1162.67,765.17 L1164.67,765.05 L1166.67,764.92 L1168.67,764.79 L1170.67,764.66 L1172.67,764.54 L1174.67,764.42 L1176.67,764.32 L1178.67,764.23 L1180.67,764.15 L1182.67,764.09 L1184.67,764.03 L1186.67,763.98 L1188.67,763.92 L1190.67,763.87 L1192.67,763.81 L1194.67,763.76 L1196.67,763.69 L1198.67,763.62 L1200.67,763.54 L1202.67,763.46 L1204.67,763.37 L1206.67,763.27 L1208.67,763.16 L1210.67,763.06 L1212.67,762.95 L1214.67,762.84 L1216.67,762.73 L1218.67,762.62 L1220.67,762.51 L1222.67,762.4 L1224.67,762.29 L1226.67,762.17 L1228.67,762.06 L1230.67,761.94 L1232.67,761.82 L1234.67,761.69 L1236.67,761.57 L1238.67,761.44 L1240.67,761.32 L1241.12,761.29" fill="none" stroke="#ff6d00" stroke-width="1.2"/>
<text x="18.4" y="662" font-size="12" fill="#50535e" textLength="15.5" lengthAdjust="spacingAndGlyphs">RSI</text>
<text x="41.7" y="662" font-size="12" fill="#7e57c2" textLength="28.8" lengthAdjust="spacingAndGlyphs">56.60</text>
<text x="78.6" y="662" font-size="12" fill="#fde047" textLength="28.8" lengthAdjust="spacingAndGlyphs">54.51</text>
<text x="119.2" y="662" font-size="11.5" fill="#50535e" text-anchor="middle" textLength="7.4" lengthAdjust="spacingAndGlyphs">Ø</text>
<text x="134.4" y="662" font-size="11.5" fill="#50535e" text-anchor="middle" textLength="7.4" lengthAdjust="spacingAndGlyphs">Ø</text>
<text x="149.6" y="662" font-size="11.5" fill="#50535e" text-anchor="middle" textLength="7.4" lengthAdjust="spacingAndGlyphs">Ø</text>
<text x="164.8" y="662" font-size="11.5" fill="#50535e" text-anchor="middle" textLength="7.4" lengthAdjust="spacingAndGlyphs">Ø</text>
<text x="180" y="662" font-size="11.5" fill="#50535e" text-anchor="middle" textLength="7.4" lengthAdjust="spacingAndGlyphs">Ø</text>
<text x="195.2" y="662" font-size="11.5" fill="#50535e" text-anchor="middle" textLength="7.4" lengthAdjust="spacingAndGlyphs">Ø</text>
<text x="18.4" y="759.6" font-size="12" fill="#50535e" textLength="29.5" lengthAdjust="spacingAndGlyphs">MACD</text>
<text x="55.3" y="759.6" font-size="12" fill="#b2dfdb" textLength="22.8" lengthAdjust="spacingAndGlyphs">0.21</text>
<text x="86" y="759.6" font-size="12" fill="#2962ff" textLength="22.8" lengthAdjust="spacingAndGlyphs">0.97</text>
<text x="116.4" y="759.6" font-size="12" fill="#ff6d00" textLength="22.8" lengthAdjust="spacingAndGlyphs">0.76</text>
<rect x="1472.0" y="28" width="63.0" height="793" fill="#fff"/>
<line x1="1472.5" x2="1472.5" y1="27" y2="821" stroke="#2a2e39" stroke-width="1"/>
<line x1="10" x2="1536" y1="794.5" y2="794.5" stroke="#2a2e39" stroke-width="1.1"/>
<line x1="1472.5" x2="1536" y1="642.3" y2="642.3" stroke="#e0e3eb" stroke-width="1.2"/>
<line x1="1472.5" x2="1536" y1="740.3" y2="740.3" stroke="#e0e3eb" stroke-width="1.2"/>
<text x="1479.9" y="639.3" font-size="12" fill="#50535e" textLength="29.6" lengthAdjust="spacingAndGlyphs">70.00</text>
<text x="1479.9" y="597.3" font-size="12" fill="#50535e" textLength="29.6" lengthAdjust="spacingAndGlyphs">72.00</text>
<text x="1479.9" y="555.3" font-size="12" fill="#50535e" textLength="29.6" lengthAdjust="spacingAndGlyphs">74.00</text>
<text x="1479.9" y="513.3" font-size="12" fill="#50535e" textLength="29.6" lengthAdjust="spacingAndGlyphs">76.00</text>
<text x="1479.9" y="471.3" font-size="12" fill="#50535e" textLength="29.6" lengthAdjust="spacingAndGlyphs">78.00</text>
<text x="1479.9" y="429.3" font-size="12" fill="#50535e" textLength="29.6" lengthAdjust="spacingAndGlyphs">80.00</text>
<text x="1479.9" y="387.3" font-size="12" fill="#50535e" textLength="29.6" lengthAdjust="spacingAndGlyphs">82.00</text>
<text x="1479.9" y="345.3" font-size="12" fill="#50535e" textLength="29.6" lengthAdjust="spacingAndGlyphs">84.00</text>
<text x="1479.9" y="303.3" font-size="12" fill="#50535e" textLength="29.6" lengthAdjust="spacingAndGlyphs">86.00</text>
<text x="1479.9" y="261.3" font-size="12" fill="#50535e" textLength="29.6" lengthAdjust="spacingAndGlyphs">88.00</text>
<text x="1479.9" y="219.3" font-size="12" fill="#50535e" textLength="29.6" lengthAdjust="spacingAndGlyphs">90.00</text>
<text x="1479.9" y="177.3" font-size="12" fill="#50535e" textLength="29.6" lengthAdjust="spacingAndGlyphs">92.00</text>
<text x="1479.9" y="135.3" font-size="12" fill="#50535e" textLength="29.6" lengthAdjust="spacingAndGlyphs">94.00</text>
<text x="1479.9" y="655.9" font-size="12" fill="#50535e" textLength="29.6" lengthAdjust="spacingAndGlyphs">80.00</text>
<rect x="1475.6" y="31.1" width="56.5" height="25.4" rx="4.5" fill="#fff" stroke="#ebedf3" stroke-width="1.8"/>
<text x="1485.4" y="48.6" font-size="12" fill="#131722" textLength="20.3" lengthAdjust="spacingAndGlyphs">USD</text>
<path d="M1472.0,82.2 H1512.8 Q1514.8,82.2 1514.8,84.2 V96.4 Q1514.8,98.4 1512.8,98.4 H1472.0 Z" fill="#2a2e39"/>
<text x="1479.9" y="94.6" font-size="12" font-weight="bold" fill="#fff" textLength="29.6" lengthAdjust="spacingAndGlyphs">95.91</text>
<path d="M1472.0,226.3 H1512.8 Q1514.8,226.3 1514.8,228.3 V240.6 Q1514.8,242.6 1512.8,242.6 H1472.0 Z" fill="#000"/>
<text x="1479.9" y="238.75" font-size="12" font-weight="bold" fill="#fff" textLength="29.6" lengthAdjust="spacingAndGlyphs">89.05</text>
<path d="M1472.0,342.8 H1512.8 Q1514.8,342.8 1514.8,344.8 V357.8 Q1514.8,359.8 1512.8,359.8 H1472.0 Z" fill="#000"/>
<text x="1479.9" y="355.6" font-size="12" font-weight="bold" fill="#fff" textLength="29.6" lengthAdjust="spacingAndGlyphs">83.49</text>
<path d="M1470.8,367.1 H1430.9 Q1428.9,367.1 1428.9,369.1 V381.9 Q1428.9,383.9 1430.9,383.9 H1470.8 Z" fill="#ef5350"/>
<text x="1465.8" y="379.8" font-size="12" font-weight="bold" fill="#fff" text-anchor="end" textLength="32" lengthAdjust="spacingAndGlyphs">UKOIL</text>
<path d="M1472.0,367.1 H1529.7 Q1531.7,367.1 1531.7,369.1 V395.8 Q1531.7,397.8 1529.7,397.8 H1472.0 Z" fill="#ef5350"/>
<text x="1479.9" y="380.2" font-size="12" font-weight="bold" fill="#fff" textLength="29.6" lengthAdjust="spacingAndGlyphs">82.33</text>
<text x="1479.9" y="393.8" font-size="12" font-weight="bold" fill="#fff" fill-opacity="0.75" textLength="46.5" lengthAdjust="spacingAndGlyphs">06:20:39</text>
<path d="M1472.0,398.3 H1512.8 Q1514.8,398.3 1514.8,400.3 V413.2 Q1514.8,415.2 1512.8,415.2 H1472.0 Z" fill="#131722"/>
<text x="1479.9" y="411.05" font-size="12" font-weight="bold" fill="#fff" textLength="29.6" lengthAdjust="spacingAndGlyphs">81.95</text>
<path d="M1472.0,414.8 H1512.8 Q1514.8,414.8 1514.8,416.8 V429.6 Q1514.8,431.6 1512.8,431.6 H1472.0 Z" fill="#131722"/>
<text x="1479.9" y="427.5" font-size="12" font-weight="bold" fill="#fff" textLength="29.6" lengthAdjust="spacingAndGlyphs">81.90</text>
<path d="M1470.8,432.4 H1422.5 Q1420.5,432.4 1420.5,434.4 V446.7 Q1420.5,448.7 1422.5,448.7 H1470.8 Z" fill="#f23645"/>
<text x="1465.8" y="444.85" font-size="12" font-weight="bold" fill="#fff" text-anchor="end" textLength="41" lengthAdjust="spacingAndGlyphs">SMA:MA</text>
<path d="M1472.0,432.4 H1512.8 Q1514.8,432.4 1514.8,434.4 V446.7 Q1514.8,448.7 1512.8,448.7 H1472.0 Z" fill="#f23645"/>
<text x="1479.9" y="444.85" font-size="12" font-weight="bold" fill="#fff" textLength="29.6" lengthAdjust="spacingAndGlyphs">81.82</text>
<path d="M1470.8,449.4 H1422.5 Q1420.5,449.4 1420.5,451.4 V463.7 Q1420.5,465.7 1422.5,465.7 H1470.8 Z" fill="#2a2aff"/>
<text x="1465.8" y="461.85" font-size="12" font-weight="bold" fill="#fff" text-anchor="end" textLength="41" lengthAdjust="spacingAndGlyphs">SMA:MA</text>
<path d="M1472.0,449.4 H1512.8 Q1514.8,449.4 1514.8,451.4 V463.7 Q1514.8,465.7 1512.8,465.7 H1472.0 Z" fill="#2a2aff"/>
<text x="1479.9" y="461.85" font-size="12" font-weight="bold" fill="#fff" textLength="29.6" lengthAdjust="spacingAndGlyphs">79.17</text>
<path d="M1472.0,596.6 H1512.8 Q1514.8,596.6 1514.8,598.6 V611 Q1514.8,613 1512.8,613 H1472.0 Z" fill="#000"/>
<text x="1479.9" y="609.1" font-size="12" font-weight="bold" fill="#fff" textLength="29.6" lengthAdjust="spacingAndGlyphs">71.44</text>
<rect x="1378.7" y="666" width="93.29999999999995" height="14.5" fill="#fff"/>
<text x="1465.5" y="676.4" font-size="12" fill="#131722" text-anchor="end" textLength="82.2" lengthAdjust="spacingAndGlyphs">Regular Bearish</text>
<rect x="1472.0" y="664" width="50" height="68.6" fill="#fff"/>
<text x="1479.9" y="676.4" font-size="12" fill="#131722" textLength="29.6" lengthAdjust="spacingAndGlyphs">65.58</text>
<path d="M1470.8,681.5 H1447 Q1445,681.5 1445,683.5 V695.5 Q1445,697.5 1447,697.5 H1470.8 Z" fill="#7e57c2"/>
<text x="1465.8" y="693.8" font-size="12" font-weight="bold" fill="#fff" text-anchor="end" textLength="15.5" lengthAdjust="spacingAndGlyphs">RSI</text>
<path d="M1472.0,681.5 H1512.8 Q1514.8,681.5 1514.8,683.5 V695.5 Q1514.8,697.5 1512.8,697.5 H1472.0 Z" fill="#7e57c2"/>
<text x="1479.9" y="693.8" font-size="12" font-weight="bold" fill="#fff" textLength="29.6" lengthAdjust="spacingAndGlyphs">56.60</text>
<path d="M1470.8,698.3 H1392.8 Q1390.8,698.3 1390.8,700.3 V712.7 Q1390.8,714.7 1392.8,714.7 H1470.8 Z" fill="#ffeb3b"/>
<text x="1465.8" y="710.8" font-size="12" font-weight="normal" fill="#131722" text-anchor="end" textLength="70" lengthAdjust="spacingAndGlyphs">RSI-based MA</text>
<path d="M1472.0,698.3 H1512.8 Q1514.8,698.3 1514.8,700.3 V712.7 Q1514.8,714.7 1512.8,714.7 H1472.0 Z" fill="#ffeb3b"/>
<text x="1479.9" y="710.8" font-size="12" font-weight="normal" fill="#131722" textLength="29.6" lengthAdjust="spacingAndGlyphs">54.51</text>
<rect x="1382" y="715" width="90.0" height="17.6" fill="#fff"/>
<text x="1465.5" y="727.3" font-size="12" fill="#131722" text-anchor="end" textLength="78" lengthAdjust="spacingAndGlyphs">Regular Bullish</text>
<text x="1479.9" y="727.7" font-size="12" fill="#131722" textLength="29.6" lengthAdjust="spacingAndGlyphs">42.84</text>
<path d="M1470.8,741.2 H1432 Q1430,741.2 1430,743.2 V755.6 Q1430,757.6 1432,757.6 H1470.8 Z" fill="#ff6d00"/>
<text x="1465.8" y="753.7" font-size="12" font-weight="bold" fill="#fff" text-anchor="end" textLength="31" lengthAdjust="spacingAndGlyphs">Signal</text>
<path d="M1472.0,741.2 H1506.8 Q1508.8,741.2 1508.8,743.2 V755.6 Q1508.8,757.6 1506.8,757.6 H1472.0 Z" fill="#ff6d00" fill-opacity="1"/>
<text x="1479.9" y="753.7" font-size="12" font-weight="bold" fill="#fff" textLength="23" lengthAdjust="spacingAndGlyphs">0.76</text>
<path d="M1470.8,758.2 H1409.2 Q1407.2,758.2 1407.2,760.2 V772.5 Q1407.2,774.5 1409.2,774.5 H1470.8 Z" fill="#b2dfdb"/>
<text x="1465.8" y="770.65" font-size="12" font-weight="normal" fill="#131722" text-anchor="end" textLength="52" lengthAdjust="spacingAndGlyphs">Histogram</text>
<path d="M1472.0,758.2 H1506.8 Q1508.8,758.2 1508.8,760.2 V772.5 Q1508.8,774.5 1506.8,774.5 H1472.0 Z" fill="#b2dfdb" fill-opacity="1"/>
<text x="1479.9" y="770.65" font-size="12" font-weight="normal" fill="#131722" textLength="23" lengthAdjust="spacingAndGlyphs">0.21</text>
<text x="89.2" y="812" font-size="12" fill="#2a2e39" text-anchor="middle">18</text>
<text x="195.2" y="812" font-size="12" fill="#2a2e39" text-anchor="middle">Oct</text>
<text x="300.2" y="812" font-size="12" fill="#2a2e39" text-anchor="middle">16</text>
<text x="427.2" y="812" font-size="12" fill="#2a2e39" text-anchor="middle">Nov</text>
<text x="512.2" y="812" font-size="12" fill="#2a2e39" text-anchor="middle">13</text>
<text x="660.2" y="812" font-size="12" fill="#2a2e39" text-anchor="middle">Dec</text>
<text x="776.2" y="812" font-size="12" fill="#2a2e39" text-anchor="middle">18</text>
<text x="871.2" y="812" font-size="12" fill="#2a2e39" text-anchor="middle" stroke="#2a2e39" stroke-width="0.45">2024</text>
<text x="966.2" y="812" font-size="12" fill="#2a2e39" text-anchor="middle">15</text>
<text x="1103.2" y="812" font-size="12" fill="#2a2e39" text-anchor="middle">Feb</text>
<text x="1230.2" y="812" font-size="12" fill="#2a2e39" text-anchor="middle">19</text>
<text x="1325.51" y="812" font-size="12" fill="#2a2e39" text-anchor="middle">Mar</text>
<text x="1441.75" y="812" font-size="12" fill="#2a2e39" text-anchor="middle">18</text>
<path d="M9.9,834.1 H17.9 V843.8 H13.9 V838 H9.9 Z" fill="#131722"/>
<circle cx="21" cy="836.2" r="2.1" fill="#131722"/>
<path d="M25.2,834.1 H29.6 L25.6,843.8 H21 Z" fill="#131722"/>
<text x="33" y="843.8" font-size="13" fill="#131722" textLength="70.6" lengthAdjust="spacingAndGlyphs">TradingView</text>
<defs><filter id="wsh" x="-5%" y="-10%" width="112%" height="125%"><feGaussianBlur in="SourceAlpha" stdDeviation="0.9"/><feOffset dx="2.6" dy="2.4" result="b"/><feFlood flood-color="#4d5058" flood-opacity="0.85"/><feComposite in2="b" operator="in"/></filter></defs>
<g font-family="'Liberation Sans', 'Noto Sans CJK SC', sans-serif" font-weight="900" font-size="62">
<text transform="translate(1296,815.5) skewX(-15)" x="0" y="0" fill="#000" filter="url(#wsh)" textLength="237" lengthAdjust="spacingAndGlyphs">海马财经</text>
<text transform="translate(1296,815.5) skewX(-15)" x="0" y="0" fill="#fff" fill-opacity="0.9" textLength="237" lengthAdjust="spacingAndGlyphs">海马财经</text>
</g>
<g font-weight="bold" font-style="italic" font-size="32">
<text x="1313" y="853.6" fill="#7f9a8a" fill-opacity="0.6" textLength="224" lengthAdjust="spacing">zzrt01.cn</text>
<text x="1312" y="852.4" fill="#8ab4f8" textLength="224" lengthAdjust="spacing">zzrt01.cn</text>
</g>
</svg>
</body></html>
